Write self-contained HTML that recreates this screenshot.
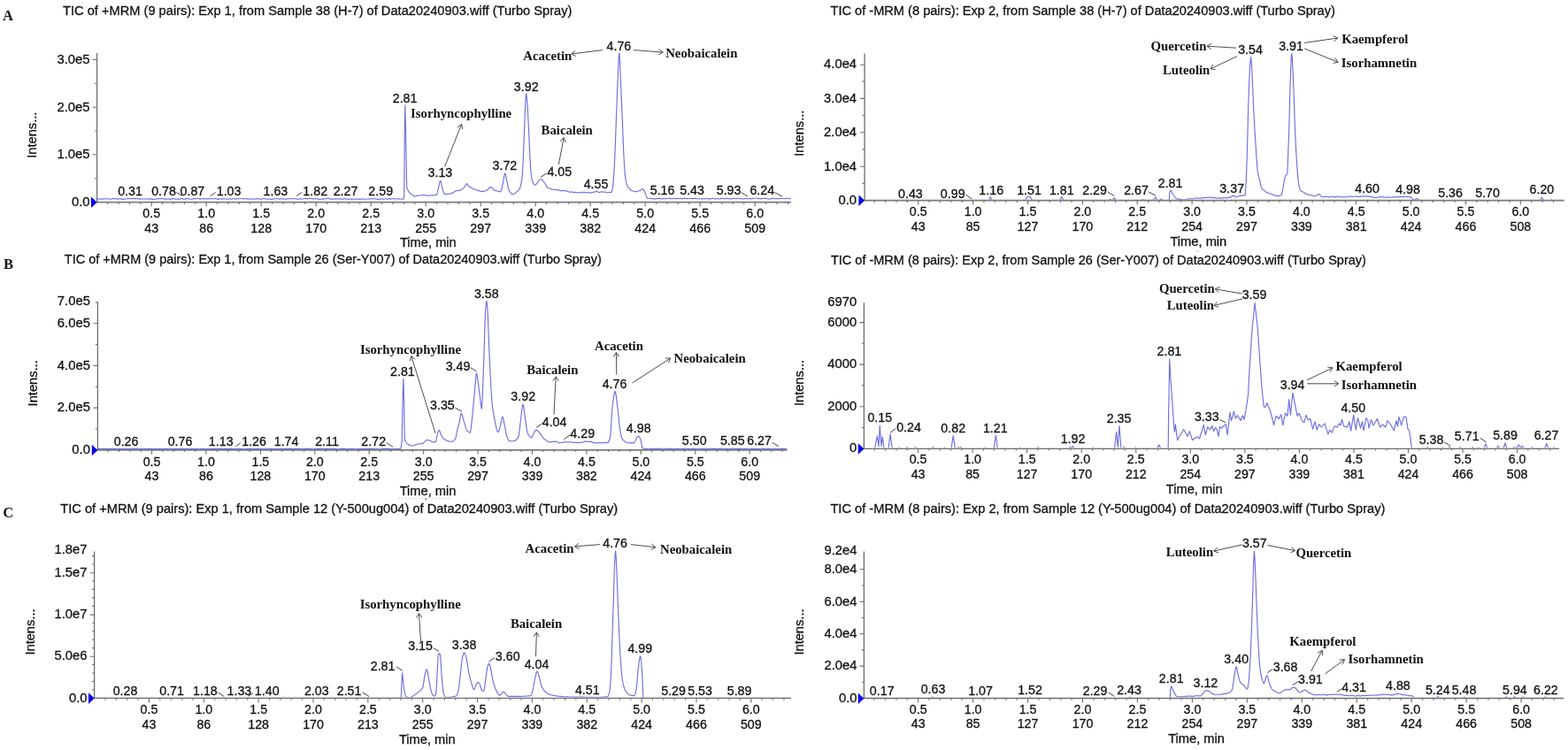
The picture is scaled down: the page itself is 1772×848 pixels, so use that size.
<!DOCTYPE html>
<html><head><meta charset="utf-8"><title>TIC chromatograms</title>
<style>
html,body{margin:0;padding:0;background:#fff}
svg{display:block}
text{font-family:"Liberation Sans",sans-serif;fill:#111;stroke:#111;stroke-width:.3px}
text.b{font-family:"Liberation Serif",serif;font-weight:bold;fill:#111;stroke:none}
.cv{fill:none;stroke:#6e6ee4;stroke-width:1.15;stroke-linejoin:round}
.ar{fill:none;stroke:#4c4c4c;stroke-width:1}
.ld{fill:none;stroke:#404040;stroke-width:1}
</style></head><body>
<svg width="1772" height="848" viewBox="0 0 1772 848">
<rect width="1772" height="848" fill="#fff"/>
<text x="3" y="23" class="b" font-size="16.6">A</text>
<text x="4" y="304" class="b" font-size="16.6">B</text>
<text x="3.2" y="585.4" class="b" font-size="16.6">C</text>
<path d="M450 563.4H510" stroke="#c4c4c4" stroke-width="0.9" stroke-dasharray="1.6 2.2"/>
<path d="M481.5 563L480.8 565.6M1353.9 283.4L1353.2 284.6" stroke="#555" stroke-width="0.9"/>
<path d="M1355.2 565H1356.4" stroke="#aaa" stroke-width="1"/>
<path d="M110.2 224.9L110.7 224.9L111.2 224.9L111.7 224.9L112.2 225.0L112.7 225.1L113.2 225.2L113.7 225.3L114.2 225.2L114.7 225.0L115.2 224.9L115.7 224.9L116.2 224.9L116.7 224.9L117.2 224.9L117.7 224.9L118.2 225.0L118.7 225.0L119.2 224.9L119.7 224.8L120.2 224.6L120.7 224.6L121.2 224.7L121.7 224.8L122.2 224.9L122.7 225.0L123.2 225.0L123.7 225.0L124.2 225.1L124.7 225.1L125.2 225.2L125.7 225.1L126.2 224.9L126.7 224.7L127.2 224.5L127.7 224.6L128.2 224.6L128.7 224.7L129.2 224.7L129.7 224.6L130.2 224.5L130.7 224.5L131.2 224.7L131.7 225.0L132.2 225.2L132.7 225.2L133.2 225.1L133.7 225.1L134.2 225.0L134.7 224.8L135.2 224.6L135.7 224.4L136.2 224.7L136.7 225.0L137.2 225.3L137.7 225.4L138.2 225.4L138.7 225.4L139.2 225.3L139.7 225.3L140.2 225.2L140.7 225.1L141.2 225.0L141.7 225.0L142.2 225.0L142.7 225.0L143.2 224.8L143.7 224.7L144.2 224.6L144.7 224.5L145.2 224.5L145.7 224.4L146.2 224.5L146.7 224.7L147.2 224.8L147.7 224.9L148.2 224.8L148.7 224.6L149.2 224.5L149.7 224.5L150.2 224.5L150.7 224.6L151.2 224.6L151.7 224.6L152.2 224.6L152.7 224.6L153.2 224.6L153.7 224.5L154.2 224.5L154.7 224.5L155.2 224.6L155.7 224.8L156.2 224.9L156.7 224.9L157.2 224.8L157.7 224.8L158.2 224.9L158.7 225.1L159.2 225.2L159.7 225.2L160.2 225.1L160.7 225.0L161.2 224.9L161.7 225.0L162.2 225.0L162.7 225.0L163.2 225.0L163.7 225.0L164.2 224.9L164.7 224.9L165.2 225.0L165.7 225.0L166.2 225.1L166.7 225.0L167.2 225.0L167.7 224.9L168.2 224.8L168.7 224.8L169.2 224.7L169.7 224.7L170.2 224.9L170.7 225.1L171.2 225.3L171.7 225.4L172.2 225.4L172.7 225.4L173.2 225.4L173.7 225.3L174.2 225.3L174.7 225.2L175.2 225.2L175.7 225.2L176.2 225.1L176.7 225.1L177.2 224.9L177.7 224.8L178.2 224.7L178.7 224.7L179.2 224.7L179.7 224.6L180.2 224.6L180.7 224.7L181.2 224.7L181.7 224.7L182.2 224.6L182.7 224.5L183.2 224.5L183.7 224.6L184.2 224.8L184.7 225.0L185.2 225.1L185.7 225.0L186.2 224.9L186.7 224.8L187.2 224.9L187.7 225.1L188.2 225.2L188.7 225.2L189.2 225.0L189.7 224.9L190.2 224.8L190.7 225.0L191.2 225.2L191.7 225.3L192.2 225.3L192.7 225.3L193.2 225.3L193.7 225.1L194.2 224.9L194.7 224.6L195.2 224.4L195.7 224.5L196.2 224.5L196.7 224.6L197.2 224.7L197.7 224.9L198.2 225.1L198.7 225.3L199.2 225.2L199.7 225.0L200.0 224.9L200.2 224.9L200.7 225.0L201.2 225.1L201.7 225.3L202.2 225.3L202.7 225.1L203.2 225.0L203.7 224.8L204.2 224.7L204.7 224.6L205.2 224.5L205.7 224.6L206.2 224.7L206.7 224.9L207.2 225.0L207.7 225.1L208.2 225.1L208.7 225.2L209.2 225.1L209.7 224.9L210.2 224.8L210.7 224.6L211.2 224.6L211.7 224.5L212.2 224.5L212.7 224.6L213.2 224.6L213.7 224.7L214.2 224.8L214.7 225.0L215.2 225.2L215.7 225.4L216.2 225.3L216.7 225.2L217.2 225.2L217.7 225.0L218.2 224.8L218.7 224.6L219.2 224.5L219.7 224.6L220.2 224.6L220.7 224.6L221.2 224.6L221.7 224.6L222.2 224.5L222.7 224.5L223.2 224.5L223.7 224.5L224.2 224.5L224.7 224.7L225.2 224.9L225.7 225.2L226.2 225.1L226.7 224.9L227.2 224.7L227.7 224.6L228.2 224.7L228.7 224.8L229.2 225.0L229.7 224.9L230.2 224.9L230.7 224.9L231.2 224.8L231.7 224.7L232.2 224.7L232.7 224.6L233.2 224.8L233.7 224.9L234.2 225.1L234.7 225.0L235.2 224.8L235.7 224.6L236.2 224.6L236.7 224.7L237.2 224.9L237.7 225.0L238.2 224.9L238.7 224.7L239.2 224.6L239.7 224.6L240.2 224.7L240.7 224.7L241.2 224.8L241.7 224.7L242.2 224.7L242.7 224.6L243.2 224.6L243.7 224.6L244.2 224.7L244.7 224.8L245.2 225.0L245.7 225.2L246.2 225.4L246.7 225.3L247.2 225.3L247.7 225.2L248.2 225.1L248.7 225.0L249.2 224.8L249.7 224.7L250.2 224.9L250.7 225.1L251.2 225.3L251.7 225.1L252.2 224.9L252.7 224.7L253.2 224.6L253.7 224.7L254.2 224.7L254.7 224.8L255.2 224.9L255.7 225.1L256.2 225.2L256.7 225.2L257.2 225.2L257.7 225.1L258.2 225.0L258.7 224.9L259.2 224.7L259.7 224.5L260.2 224.7L260.7 225.0L261.2 225.2L261.7 225.3L262.2 225.1L262.7 224.8L263.2 224.6L263.7 224.6L264.2 224.6L264.7 224.7L265.2 224.7L265.7 224.9L266.2 225.1L266.7 225.1L267.2 225.0L267.7 224.9L268.2 224.8L268.7 224.7L269.2 224.7L269.7 224.7L270.2 224.7L270.7 224.6L271.2 224.5L271.7 224.5L272.2 224.5L272.7 224.5L273.2 224.5L273.7 224.6L274.2 224.7L274.7 224.9L275.2 225.0L275.7 224.9L276.2 224.8L276.7 224.7L277.2 224.7L277.7 224.8L278.2 224.9L278.7 225.0L279.2 224.9L279.7 224.8L280.2 224.8L280.7 224.8L281.2 224.8L281.7 224.8L282.2 224.9L282.7 225.1L283.2 225.2L283.7 225.3L284.2 225.2L284.7 225.1L285.2 224.9L285.7 224.9L286.2 224.9L286.7 225.0L287.2 225.0L287.7 225.1L288.2 225.2L288.7 225.3L289.2 225.1L289.7 224.9L290.2 224.7L290.7 224.6L291.2 224.6L291.7 224.6L292.2 224.6L292.7 224.8L293.2 225.0L293.7 225.3L294.2 225.3L294.7 225.3L295.2 225.2L295.7 225.2L296.2 225.0L296.7 224.8L297.2 224.6L297.7 224.6L298.2 224.6L298.7 224.6L299.2 224.7L299.7 224.8L300.0 224.9L300.2 225.0L300.7 225.2L301.2 225.2L301.7 225.3L302.2 225.3L302.7 225.2L303.2 224.9L303.7 224.7L304.2 224.7L304.7 224.9L305.2 225.1L305.7 225.4L306.2 225.3L306.7 225.3L307.2 225.3L307.7 225.2L308.2 225.2L308.7 225.1L309.2 225.0L309.7 224.9L310.2 224.9L310.7 224.8L311.2 224.7L311.7 224.7L312.2 224.6L312.7 224.5L313.2 224.5L313.7 224.5L314.2 224.4L314.7 224.7L315.2 225.0L315.7 225.3L316.2 225.2L316.7 225.0L317.2 224.8L317.7 224.7L318.2 224.8L318.7 224.9L319.2 225.1L319.7 225.0L320.2 224.9L320.7 224.7L321.2 224.7L321.7 224.9L322.2 225.1L322.7 225.2L323.2 225.2L323.7 225.1L324.2 225.0L324.7 224.9L325.2 224.9L325.7 224.8L326.2 224.7L326.7 224.7L327.2 224.6L327.7 224.6L328.2 224.7L328.7 224.9L329.2 225.0L329.7 225.0L330.2 224.9L330.7 224.7L331.2 224.5L331.7 224.5L332.2 224.6L332.7 224.6L333.2 224.7L333.7 224.8L334.2 224.9L334.7 225.0L335.2 225.1L335.7 225.1L336.2 225.2L336.7 225.2L337.2 225.1L337.7 225.1L338.2 225.0L338.7 224.9L339.2 224.8L339.7 224.7L340.2 224.9L340.7 225.1L341.2 225.2L341.7 225.2L342.2 225.0L342.7 224.8L343.2 224.6L343.7 224.5L344.2 224.5L344.7 224.4L345.2 224.5L345.7 224.6L346.2 224.6L346.7 224.7L347.2 224.7L347.7 224.8L348.2 224.8L348.7 224.7L349.2 224.6L349.7 224.5L350.2 224.5L350.7 224.5L351.2 224.5L351.7 224.6L352.2 224.6L352.7 224.7L353.2 224.8L353.7 224.8L354.2 224.9L354.7 224.9L355.2 224.9L355.7 224.8L356.2 224.7L356.7 224.5L357.2 224.6L357.7 224.7L358.2 224.7L358.7 224.9L359.2 225.0L359.7 225.2L360.2 225.3L360.7 225.3L361.2 225.3L361.7 225.4L362.2 225.3L362.7 225.2L363.2 225.1L363.7 225.1L364.2 225.1L364.7 225.1L365.2 225.1L365.7 225.1L366.2 225.0L366.7 225.0L367.2 224.9L367.7 224.8L368.2 224.6L368.7 224.5L369.2 224.5L369.7 224.5L370.2 224.4L370.7 224.4L371.2 224.4L371.7 224.4L372.2 224.5L372.7 224.8L373.2 225.0L373.7 225.3L374.2 225.2L374.7 225.2L375.2 225.1L375.7 225.1L376.2 225.2L376.7 225.3L377.2 225.3L377.7 225.0L378.2 224.8L378.7 224.5L379.2 224.6L379.7 224.7L380.2 224.9L380.7 225.0L381.2 225.0L381.7 224.9L382.2 224.9L382.7 225.0L383.2 225.0L383.7 225.1L384.2 225.1L384.7 224.9L385.2 224.8L385.7 224.8L386.2 225.0L386.7 225.2L387.2 225.4L387.7 225.2L388.2 224.9L388.7 224.6L389.2 224.5L389.7 224.7L390.2 224.8L390.7 224.9L391.2 225.0L391.7 225.1L392.2 225.1L392.7 225.2L393.2 225.2L393.7 225.3L394.2 225.3L394.7 225.2L395.2 225.2L395.7 225.1L396.2 225.1L396.7 225.1L397.2 225.1L397.7 225.1L398.2 225.1L398.7 225.2L399.2 225.2L399.7 225.2L400.0 225.3L400.2 225.3L400.7 225.3L401.2 225.2L401.7 225.0L402.2 224.9L402.7 224.8L403.2 224.9L403.7 225.0L404.2 225.1L404.7 225.1L405.2 225.2L405.7 225.3L406.2 225.3L406.7 225.3L407.2 225.3L407.7 225.3L408.2 225.1L408.7 225.0L409.2 224.9L409.7 224.9L410.2 225.0L410.7 225.1L411.2 225.2L411.7 225.2L412.2 225.2L412.7 225.3L413.2 225.2L413.7 225.1L414.2 225.0L414.7 225.0L415.2 225.0L415.7 225.0L416.2 225.0L416.7 225.0L417.2 224.9L417.7 224.8L418.2 224.8L418.7 224.9L419.2 224.9L419.7 225.0L420.2 225.0L420.7 225.0L421.2 225.0L421.7 224.9L422.2 224.7L422.7 224.6L423.2 224.5L423.7 224.7L424.2 224.9L424.7 225.0L425.2 225.1L425.7 225.2L426.2 225.4L426.7 225.4L427.2 225.3L427.7 225.3L428.2 225.3L428.7 225.2L429.2 225.2L429.7 225.1L430.2 225.0L430.7 224.9L431.2 224.8L431.7 224.8L432.2 224.9L432.7 225.0L433.2 225.1L433.7 225.1L434.2 225.0L434.7 225.0L435.2 225.0L435.7 224.9L436.2 224.9L436.7 224.9L437.2 225.0L437.7 225.1L438.2 225.2L438.7 225.1L439.2 224.8L439.7 224.6L440.2 224.6L440.7 224.8L441.2 225.0L441.7 225.2L442.2 224.9L442.7 224.7L443.2 224.5L443.7 224.5L444.2 224.7L444.7 224.9L445.2 225.0L445.7 225.0L446.2 224.9L446.7 224.9L447.2 224.8L447.7 224.7L448.2 224.7L448.7 224.7L449.2 224.8L449.7 225.0L450.2 225.1L450.7 225.0L451.2 225.0L451.7 224.9L452.2 224.9L452.7 225.0L453.2 225.0L453.7 225.0L454.2 225.1L454.7 225.2L455.2 225.3L455.7 225.2L456.2 225.0L456.6 222.0L456.9 200.0L457.3 150.0L457.8 118.9L458.6 150.0L459.4 200.0L459.7 212.5L459.8 212.5L460.3 213.5L460.8 214.5L461.3 215.4L461.8 216.3L462.3 217.1L462.8 217.9L463.0 218.1L463.3 218.5L463.8 218.8L464.3 219.2L464.8 219.4L465.3 219.8L465.8 220.1L466.0 220.2L466.3 220.4L466.8 220.8L467.3 221.4L467.8 221.9L468.3 222.2L468.5 222.2L468.8 222.2L469.3 222.0L469.8 221.8L470.3 221.5L470.8 221.3L471.3 221.1L471.8 221.0L472.0 221.0L472.3 221.1L472.8 221.2L473.3 221.3L473.8 221.2L474.3 221.0L474.8 220.8L475.3 220.7L475.8 220.7L476.3 220.8L476.8 220.9L477.3 220.8L477.8 220.6L478.3 220.4L478.8 220.4L479.3 220.5L479.8 220.6L480.0 220.6L480.3 220.6L480.8 220.8L481.3 220.9L481.8 221.0L482.3 221.1L482.8 221.1L483.3 221.2L483.8 221.2L484.3 221.2L484.8 221.2L485.3 221.2L485.8 221.1L486.3 220.9L486.8 220.7L487.0 220.7L487.3 220.7L487.8 220.8L488.3 220.8L488.8 220.9L489.3 220.8L489.8 220.7L490.3 220.6L490.8 220.5L491.3 220.4L491.8 220.3L492.3 220.3L492.8 220.4L493.3 220.5L493.8 219.8L494.3 217.9L494.8 215.5L495.3 213.2L495.5 212.4L495.8 211.1L496.3 208.6L496.8 206.3L497.3 204.7L497.6 204.3L497.8 204.5L498.3 205.7L498.8 207.8L499.3 210.3L499.8 212.4L500.3 214.2L500.8 216.0L501.3 217.5L501.8 218.7L502.3 219.3L502.6 219.4L502.8 219.4L503.3 219.4L503.8 219.3L504.3 219.3L504.8 219.4L505.3 219.5L505.8 219.5L506.3 219.4L506.8 219.3L507.3 219.2L507.7 219.1L507.8 219.1L508.3 219.0L508.8 218.9L509.3 218.7L509.8 218.6L510.3 218.5L510.8 218.3L511.3 218.1L511.8 217.9L512.3 217.7L512.8 217.4L513.3 217.0L513.8 216.7L514.3 216.4L514.8 216.1L515.3 215.8L515.8 215.6L516.2 215.5L516.3 215.5L516.8 215.5L517.3 215.6L517.8 215.6L518.3 215.5L518.8 215.5L519.3 215.4L519.8 215.2L520.3 214.9L520.8 214.6L521.3 214.3L521.8 214.0L522.3 213.7L522.8 213.4L523.0 213.3L523.3 213.1L523.8 212.6L524.3 211.9L524.8 211.4L525.3 211.0L525.8 210.3L526.3 209.3L526.8 208.2L527.2 207.7L527.3 207.7L527.8 207.7L528.3 208.6L528.8 209.5L529.3 210.4L529.5 210.6L529.8 210.8L530.3 211.1L530.8 211.4L531.3 211.6L531.8 211.8L532.3 212.0L532.8 212.2L533.3 212.6L533.8 213.1L534.3 213.5L534.8 213.8L535.3 213.9L535.8 213.9L536.3 213.9L536.8 214.2L537.3 214.4L537.8 214.7L538.2 214.8L538.3 214.9L538.8 215.1L539.3 215.4L539.8 215.5L540.3 215.5L540.8 215.5L541.3 215.5L541.8 215.8L542.3 216.2L542.8 216.5L543.3 216.7L543.8 216.6L544.3 216.4L544.8 216.3L545.3 216.3L545.8 216.3L546.3 216.3L546.7 216.3L546.8 216.3L547.3 216.2L547.8 216.0L548.3 215.8L548.8 215.7L549.3 215.6L549.8 215.4L550.3 215.1L550.8 214.7L551.0 214.5L551.3 214.2L551.8 213.7L552.3 213.1L552.8 212.5L553.3 212.0L553.8 211.6L554.3 211.5L554.8 211.6L555.3 211.8L555.8 212.2L556.3 212.7L556.5 212.8L556.8 213.1L557.3 213.7L557.8 214.4L558.3 215.0L558.5 215.1L558.8 215.2L559.3 215.4L559.8 215.5L560.3 215.7L560.8 215.7L561.3 215.8L561.8 215.8L562.3 216.1L562.8 216.4L563.3 216.6L563.8 216.7L564.3 216.7L564.8 216.7L565.3 216.6L565.8 216.6L566.3 215.9L566.8 214.3L567.3 212.2L567.8 209.7L568.3 207.3L568.7 205.5L568.8 205.0L569.3 202.2L569.8 199.1L570.3 196.8L570.7 195.9L570.8 195.9L571.3 196.9L571.8 199.2L572.3 202.0L572.8 204.7L572.9 205.2L573.3 207.1L573.8 209.7L574.3 212.1L574.8 214.2L575.2 215.2L575.3 215.4L575.8 216.2L576.3 216.8L576.5 217.1L576.8 217.5L577.3 218.2L577.8 218.8L578.3 219.3L578.8 219.5L579.0 219.5L579.3 219.5L579.8 219.5L580.3 219.4L580.8 219.2L581.3 219.0L581.8 218.7L582.3 218.4L582.8 217.9L583.3 217.4L583.8 216.9L584.3 216.5L584.7 216.3L584.8 216.2L585.3 215.9L585.8 215.4L586.3 214.8L586.8 214.0L587.2 213.3L587.3 213.2L587.8 211.8L588.3 210.1L588.8 208.0L589.3 205.7L589.4 205.3L589.8 202.4L590.3 196.7L590.8 189.5L591.3 179.3L591.8 166.6L592.2 156.3L592.3 153.8L592.8 140.1L593.3 127.1L593.5 122.8L593.8 116.6L594.3 107.8L594.6 105.9L594.8 106.3L595.3 110.0L595.8 116.1L596.3 123.0L596.8 131.7L597.3 142.9L597.8 154.1L597.9 156.2L598.3 164.6L598.8 175.4L599.3 184.9L599.6 189.3L599.8 191.9L600.3 197.7L600.8 201.6L600.9 202.1L601.3 203.7L601.8 205.3L602.3 206.6L602.8 207.6L603.2 208.1L603.3 208.2L603.8 208.7L604.3 209.1L604.8 209.2L604.9 209.2L605.3 209.0L605.8 208.6L606.3 207.9L606.8 207.2L607.3 206.6L607.8 206.0L608.3 205.3L608.8 204.5L609.3 203.8L609.8 203.3L610.3 203.0L610.8 202.8L611.1 202.8L611.3 202.7L611.8 202.8L612.3 203.0L612.8 203.3L613.3 204.1L613.8 204.8L614.3 205.6L614.4 205.7L614.8 206.2L615.3 206.8L615.8 207.5L616.3 208.2L616.8 208.9L616.9 209.1L617.3 209.8L617.8 210.9L618.3 211.9L618.6 212.2L618.8 212.3L619.3 212.6L619.8 212.7L620.3 212.7L620.8 212.7L621.3 212.7L621.8 213.1L622.3 213.4L622.8 213.7L623.3 213.9L623.8 214.0L624.3 214.1L624.8 214.2L625.3 214.3L625.8 214.4L626.0 214.4L626.3 214.5L626.8 214.5L627.3 214.4L627.8 214.4L628.3 214.4L628.8 214.6L629.3 214.8L629.8 214.9L630.3 214.9L630.8 214.8L631.3 214.7L631.8 214.9L632.3 215.1L632.8 215.4L633.3 215.6L633.8 215.7L634.3 215.8L634.8 215.8L635.3 215.8L635.8 215.7L636.3 215.6L636.8 215.5L637.3 215.5L637.8 215.5L638.3 215.5L638.8 215.7L639.3 215.9L639.8 216.1L640.0 216.1L640.3 216.2L640.8 216.3L641.3 216.4L641.8 216.6L642.3 216.7L642.8 216.9L643.3 217.0L643.8 217.1L644.3 217.1L644.8 217.1L645.3 217.1L645.8 217.0L646.3 216.9L646.8 216.9L647.3 217.2L647.8 217.5L648.3 217.8L648.8 217.8L649.3 217.6L649.8 217.4L650.3 217.3L650.8 217.6L651.3 217.8L651.6 218.0L651.8 218.1L652.3 218.0L652.8 217.8L653.3 217.6L653.8 217.5L654.3 217.5L654.8 217.6L655.3 217.6L655.8 217.7L656.3 217.9L656.8 218.0L657.3 218.0L657.8 217.7L658.3 217.5L658.8 217.4L659.3 217.4L659.8 217.3L660.3 217.3L660.8 217.4L661.3 217.5L661.8 217.6L662.3 217.7L662.8 217.8L663.3 217.8L663.8 217.9L664.3 217.9L664.8 217.9L665.3 218.0L665.8 217.9L666.3 217.9L666.8 217.8L667.3 217.8L667.8 217.8L668.3 217.9L668.5 217.9L668.8 218.0L669.3 217.8L669.8 217.5L670.3 217.3L670.8 217.1L671.3 217.1L671.8 217.2L672.3 217.2L672.8 216.8L673.3 216.5L673.4 216.5L673.8 216.3L674.3 216.3L674.8 216.5L675.3 216.7L675.8 217.0L676.3 217.2L676.8 217.4L677.0 217.5L677.3 217.5L677.8 217.4L678.3 217.2L678.8 217.0L679.3 216.9L679.8 216.9L680.3 217.0L680.8 217.1L681.0 217.0L681.3 217.0L681.8 217.0L682.3 217.0L682.8 217.1L683.3 217.1L683.8 217.2L684.3 217.2L684.8 217.4L685.3 217.6L685.8 217.7L686.0 217.8L686.3 217.7L686.8 217.7L687.3 217.6L687.8 217.5L688.3 217.5L688.8 217.4L689.3 217.4L689.8 217.4L690.3 217.4L690.8 217.5L691.3 216.8L691.8 215.1L692.3 212.6L692.5 211.5L692.8 209.2L693.3 203.1L693.6 198.9L693.8 196.0L694.3 187.6L694.8 177.6L695.3 165.4L695.8 151.4L696.3 137.3L696.4 134.7L696.8 123.9L697.3 110.1L697.8 97.4L698.0 92.8L698.3 85.9L698.8 73.8L699.3 64.0L699.8 59.9L700.3 65.1L700.8 77.1L701.3 90.2L701.4 92.4L701.8 101.1L702.3 112.1L702.8 123.4L703.3 134.9L703.8 147.6L704.3 161.1L704.8 173.1L705.0 177.1L705.3 182.4L705.8 190.5L706.3 196.8L706.5 198.5L706.8 200.7L707.3 203.9L707.8 206.4L708.3 208.3L708.6 209.1L708.8 209.6L709.3 210.7L709.8 211.6L710.3 212.2L710.8 212.6L711.3 213.0L711.8 213.7L712.3 214.4L712.4 214.5L712.8 215.0L713.3 215.4L713.8 215.6L714.3 215.7L714.8 215.8L715.3 216.0L715.8 216.1L716.3 216.2L716.8 216.4L717.3 216.6L717.7 216.7L717.8 216.7L718.3 216.8L718.8 216.7L719.3 216.5L719.8 216.4L720.3 216.3L720.8 216.1L721.3 216.0L721.8 215.9L722.3 215.8L722.8 215.7L723.0 215.7L723.3 215.6L723.8 215.1L724.3 214.6L724.8 214.0L725.3 213.7L725.8 213.6L726.2 213.7L726.3 213.7L726.8 214.1L727.3 214.7L727.8 215.4L728.3 216.3L728.8 217.3L729.0 217.7L729.3 218.4L729.8 219.8L730.3 221.4L730.8 222.7L731.3 223.8L731.8 224.4L731.9 224.4L732.3 224.4L732.8 224.3L733.3 224.2L733.8 224.3L734.3 224.4L734.8 224.5L735.0 224.5L735.2 224.3L735.7 224.3L736.2 224.4L736.7 224.5L737.2 224.6L737.7 224.7L738.2 224.8L738.7 224.9L739.2 224.9L739.7 224.9L740.2 225.0L740.7 224.9L741.2 224.8L741.7 224.6L742.2 224.6L742.7 224.5L743.2 224.5L743.7 224.4L744.2 224.4L744.7 224.4L745.2 224.3L745.7 224.4L746.2 224.5L746.7 224.6L747.2 224.7L747.7 224.8L748.2 224.9L748.7 225.0L749.2 224.8L749.7 224.6L750.2 224.4L750.7 224.3L751.2 224.5L751.7 224.7L752.2 224.9L752.7 224.7L753.2 224.5L753.7 224.3L754.2 224.2L754.7 224.2L755.2 224.3L755.7 224.3L756.2 224.3L756.7 224.3L757.2 224.4L757.7 224.5L758.2 224.6L758.7 224.7L759.2 224.7L759.7 224.6L760.2 224.5L760.7 224.4L761.2 224.4L761.7 224.5L762.2 224.5L762.7 224.5L763.2 224.6L763.7 224.7L764.2 224.7L764.7 224.5L765.2 224.4L765.7 224.3L766.2 224.4L766.7 224.5L767.2 224.7L767.7 224.7L768.2 224.6L768.7 224.4L769.2 224.3L769.7 224.4L770.2 224.5L770.7 224.6L771.2 224.6L771.7 224.5L772.2 224.4L772.7 224.4L773.2 224.4L773.7 224.3L774.2 224.3L774.7 224.4L775.2 224.5L775.7 224.6L776.2 224.6L776.7 224.6L777.2 224.6L777.7 224.5L778.2 224.5L778.7 224.5L779.2 224.5L779.7 224.5L780.2 224.5L780.7 224.5L781.2 224.5L781.7 224.6L782.2 224.6L782.7 224.6L783.2 224.5L783.7 224.5L784.2 224.4L784.7 224.3L785.2 224.3L785.7 224.3L786.2 224.3L786.7 224.4L787.2 224.6L787.7 224.7L788.2 224.7L788.7 224.7L789.2 224.7L789.7 224.7L790.2 224.7L790.7 224.7L791.2 224.6L791.7 224.7L792.2 224.8L792.7 224.9L793.2 224.9L793.7 224.8L794.2 224.8L794.7 224.7L795.2 224.8L795.7 224.8L796.2 224.9L796.7 224.8L797.2 224.7L797.7 224.5L798.2 224.4L798.7 224.5L799.2 224.7L799.7 224.8L800.0 224.8L800.2 224.8L800.7 224.8L801.2 224.9L801.7 224.9L802.2 224.9L802.7 224.9L803.2 225.0L803.7 224.8L804.2 224.7L804.7 224.5L805.2 224.4L805.7 224.4L806.2 224.4L806.7 224.5L807.2 224.6L807.7 224.8L808.2 224.9L808.7 224.8L809.2 224.6L809.7 224.5L810.2 224.4L810.7 224.6L811.2 224.8L811.7 225.0L812.2 225.0L812.7 225.0L813.2 225.0L813.7 224.8L814.2 224.6L814.7 224.4L815.2 224.3L815.7 224.3L816.2 224.3L816.7 224.4L817.2 224.5L817.7 224.6L818.2 224.7L818.7 224.7L819.2 224.6L819.7 224.5L820.2 224.4L820.7 224.3L821.2 224.3L821.7 224.2L822.2 224.3L822.7 224.5L823.2 224.7L823.7 224.9L824.2 224.8L824.7 224.7L825.2 224.5L825.7 224.6L826.2 224.7L826.7 224.8L827.2 224.8L827.7 224.6L828.2 224.4L828.7 224.3L829.2 224.3L829.7 224.4L830.2 224.5L830.7 224.5L831.2 224.6L831.7 224.7L832.2 224.7L832.7 224.5L833.2 224.4L833.7 224.2L834.2 224.2L834.7 224.2L835.2 224.3L835.7 224.4L836.2 224.5L836.7 224.6L837.2 224.7L837.7 224.8L838.2 224.9L838.7 224.9L839.2 225.0L839.7 225.0L840.2 225.0L840.7 225.0L841.2 224.7L841.7 224.5L842.2 224.3L842.7 224.3L843.2 224.4L843.7 224.5L844.2 224.6L844.7 224.7L845.2 224.7L845.7 224.8L846.2 224.7L846.7 224.7L847.2 224.6L847.7 224.6L848.2 224.6L848.7 224.7L849.2 224.7L849.7 224.6L850.2 224.4L850.7 224.3L851.2 224.3L851.7 224.2L852.2 224.2L852.7 224.2L853.2 224.2L853.7 224.2L854.2 224.2L854.7 224.2L855.2 224.2L855.7 224.2L856.2 224.2L856.7 224.4L857.2 224.5L857.7 224.6L858.2 224.6L858.7 224.6L859.2 224.6L859.7 224.6L860.2 224.6L860.7 224.6L861.2 224.6L861.7 224.5L862.2 224.3L862.7 224.2L863.2 224.2L863.7 224.3L864.2 224.3L864.7 224.3L865.2 224.3L865.7 224.3L866.2 224.3L866.7 224.5L867.2 224.6L867.7 224.8L868.2 224.9L868.7 224.9L869.2 225.0L869.7 225.0L870.2 225.0L870.7 224.9L871.2 224.9L871.7 224.7L872.2 224.5L872.7 224.3L873.2 224.2L873.7 224.2L874.2 224.1L874.7 224.2L875.2 224.4L875.7 224.7L876.2 224.9L876.7 224.8L877.2 224.7L877.7 224.6L878.2 224.5L878.7 224.6L879.2 224.7L879.7 224.8L880.2 224.6L880.7 224.5L881.2 224.4L881.7 224.4L882.2 224.4L882.7 224.5L883.2 224.5L883.7 224.5L884.2 224.5L884.7 224.5L885.2 224.5L885.7 224.5L886.2 224.5L886.7 224.5L887.2 224.5L887.7 224.6L888.2 224.6L888.7 224.4L889.2 224.3L889.7 224.1L890.2 224.2L890.7 224.4L891.2 224.5L891.7 224.7L892.2 224.7L892.7 224.8L893.2 224.8L893.7 224.7L894.0 224.6" class="cv"/>
<path d="M109.6 60L109.6 229.2" stroke="#6e6e6e" stroke-width="1.3"/>
<path d="M109 228.6L894 228.6" stroke="#7c7c7c" stroke-width="1.85"/>
<path d="M104.6 67.5H109.6M104.6 121.2H109.6M104.6 174.8H109.6M107 94.3H109.6M107 148H109.6M107 201.7H109.6M121.6 228.6V230.9M134 228.6V230.9M146.4 228.6V230.9M158.8 228.6V230.9M171.2 228.6V233.6M183.6 228.6V230.9M196 228.6V230.9M208.4 228.6V230.9M220.8 228.6V230.9M233.2 228.6V233.6M245.6 228.6V230.9M258 228.6V230.9M270.4 228.6V230.9M282.8 228.6V230.9M295.2 228.6V233.6M307.6 228.6V230.9M320 228.6V230.9M332.4 228.6V230.9M344.8 228.6V230.9M357.2 228.6V233.6M369.6 228.6V230.9M382 228.6V230.9M394.4 228.6V230.9M406.8 228.6V230.9M419.2 228.6V233.6M431.6 228.6V230.9M444 228.6V230.9M456.4 228.6V230.9M468.8 228.6V230.9M481.2 228.6V233.6M493.6 228.6V230.9M506 228.6V230.9M518.4 228.6V230.9M530.8 228.6V230.9M543.2 228.6V233.6M555.6 228.6V230.9M568 228.6V230.9M580.4 228.6V230.9M592.8 228.6V230.9M605.2 228.6V233.6M617.6 228.6V230.9M630 228.6V230.9M642.4 228.6V230.9M654.8 228.6V230.9M667.2 228.6V233.6M679.6 228.6V230.9M692 228.6V230.9M704.4 228.6V230.9M716.8 228.6V230.9M729.2 228.6V233.6M741.6 228.6V230.9M754 228.6V230.9M766.4 228.6V230.9M778.8 228.6V230.9M791.2 228.6V233.6M803.6 228.6V230.9M816 228.6V230.9M828.4 228.6V230.9M840.8 228.6V230.9M853.2 228.6V233.6M865.6 228.6V230.9M878 228.6V230.9M890.4 228.6V230.9" stroke="#6e6e6e" stroke-width="1.1"/>
<path d="M103 222.5L109.6 228.8L103 235.1Z" fill="#0000f0"/>
<text transform="translate(101.5,71.8) scale(1.01,1)" text-anchor="end" font-size="14.67">3.0e5</text>
<text transform="translate(101.5,125.5) scale(1.01,1)" text-anchor="end" font-size="14.67">2.0e5</text>
<text transform="translate(101.5,179) scale(1.01,1)" text-anchor="end" font-size="14.67">1.0e5</text>
<text transform="translate(101.5,232.7) scale(1.01,1)" text-anchor="end" font-size="14.67">0.0</text>
<text transform="translate(171.2,246.4) scale(0.97,1)" text-anchor="middle" font-size="14.67">0.5</text>
<text transform="translate(171.2,263.4) scale(0.97,1)" text-anchor="middle" font-size="14.67">43</text>
<text transform="translate(233.2,246.4) scale(0.97,1)" text-anchor="middle" font-size="14.67">1.0</text>
<text transform="translate(233.2,263.4) scale(0.97,1)" text-anchor="middle" font-size="14.67">86</text>
<text transform="translate(295.2,246.4) scale(0.97,1)" text-anchor="middle" font-size="14.67">1.5</text>
<text transform="translate(295.2,263.4) scale(0.97,1)" text-anchor="middle" font-size="14.67">128</text>
<text transform="translate(357.2,246.4) scale(0.97,1)" text-anchor="middle" font-size="14.67">2.0</text>
<text transform="translate(357.2,263.4) scale(0.97,1)" text-anchor="middle" font-size="14.67">170</text>
<text transform="translate(419.2,246.4) scale(0.97,1)" text-anchor="middle" font-size="14.67">2.5</text>
<text transform="translate(419.2,263.4) scale(0.97,1)" text-anchor="middle" font-size="14.67">213</text>
<text transform="translate(481.2,246.4) scale(0.97,1)" text-anchor="middle" font-size="14.67">3.0</text>
<text transform="translate(481.2,263.4) scale(0.97,1)" text-anchor="middle" font-size="14.67">255</text>
<text transform="translate(543.2,246.4) scale(0.97,1)" text-anchor="middle" font-size="14.67">3.5</text>
<text transform="translate(543.2,263.4) scale(0.97,1)" text-anchor="middle" font-size="14.67">297</text>
<text transform="translate(605.2,246.4) scale(0.97,1)" text-anchor="middle" font-size="14.67">4.0</text>
<text transform="translate(605.2,263.4) scale(0.97,1)" text-anchor="middle" font-size="14.67">339</text>
<text transform="translate(667.2,246.4) scale(0.97,1)" text-anchor="middle" font-size="14.67">4.5</text>
<text transform="translate(667.2,263.4) scale(0.97,1)" text-anchor="middle" font-size="14.67">382</text>
<text transform="translate(729.2,246.4) scale(0.97,1)" text-anchor="middle" font-size="14.67">5.0</text>
<text transform="translate(729.2,263.4) scale(0.97,1)" text-anchor="middle" font-size="14.67">424</text>
<text transform="translate(791.2,246.4) scale(0.97,1)" text-anchor="middle" font-size="14.67">5.5</text>
<text transform="translate(791.2,263.4) scale(0.97,1)" text-anchor="middle" font-size="14.67">466</text>
<text transform="translate(853.2,246.4) scale(0.97,1)" text-anchor="middle" font-size="14.67">6.0</text>
<text transform="translate(853.2,263.4) scale(0.97,1)" text-anchor="middle" font-size="14.67">509</text>
<text transform="translate(483.85,278.8) scale(1.0,1)" text-anchor="middle" font-size="14.67">Time, min</text>
<text transform="translate(40.7,152.7) rotate(-90) scale(1.0,1)" text-anchor="middle" font-size="14.67">Intens...</text>
<text x="71.1" y="16.6" font-size="14.67" textLength="575.3" lengthAdjust="spacingAndGlyphs">TIC of +MRM (9 pairs): Exp 1, from Sample 38 (H-7) of Data20240903.wiff (Turbo Spray)</text>
<text transform="translate(147,220.65) scale(0.97,1)" text-anchor="middle" font-size="14.67">0.31</text>
<text transform="translate(185,220.65) scale(0.97,1)" text-anchor="middle" font-size="14.67">0.78</text>
<text transform="translate(217.4,220.65) scale(0.97,1)" text-anchor="middle" font-size="14.67">0.87</text>
<text transform="translate(258.6,220.65) scale(0.97,1)" text-anchor="middle" font-size="14.67">1.03</text>
<text transform="translate(311.4,220.65) scale(0.97,1)" text-anchor="middle" font-size="14.67">1.63</text>
<text transform="translate(356.2,220.65) scale(0.97,1)" text-anchor="middle" font-size="14.67">1.82</text>
<text transform="translate(390.5,220.65) scale(0.97,1)" text-anchor="middle" font-size="14.67">2.27</text>
<text transform="translate(430.2,220.65) scale(0.97,1)" text-anchor="middle" font-size="14.67">2.59</text>
<text transform="translate(457.6,116.45) scale(0.97,1)" text-anchor="middle" font-size="14.67">2.81</text>
<text transform="translate(497.4,200.15) scale(0.97,1)" text-anchor="middle" font-size="14.67">3.13</text>
<text transform="translate(570.4,192.25) scale(0.97,1)" text-anchor="middle" font-size="14.67">3.72</text>
<text transform="translate(594.7,102.95) scale(0.97,1)" text-anchor="middle" font-size="14.67">3.92</text>
<text transform="translate(632.3,199.05) scale(0.97,1)" text-anchor="middle" font-size="14.67">4.05</text>
<text transform="translate(673.5,213.45) scale(0.97,1)" text-anchor="middle" font-size="14.67">4.55</text>
<text transform="translate(699.4,56.65) scale(0.97,1)" text-anchor="middle" font-size="14.67">4.76</text>
<text transform="translate(748.6,220.45) scale(0.97,1)" text-anchor="middle" font-size="14.67">5.16</text>
<text transform="translate(782.1,220.45) scale(0.97,1)" text-anchor="middle" font-size="14.67">5.43</text>
<text transform="translate(823.6,220.45) scale(0.97,1)" text-anchor="middle" font-size="14.67">5.93</text>
<text transform="translate(861.3,220.45) scale(0.97,1)" text-anchor="middle" font-size="14.67">6.24</text>
<path d="M199.3 217.5L206 221.6M237.7 221.6L243.6 217.5M335.2 221.4L341 217.5M611 200.3L617.8 196M837.9 217.6L845 222.2M875.5 217.6L883.9 222.2" class="ld"/>
<text x="591.3" y="67.6" class="b" font-size="14.78">Acacetin</text>
<text x="752.2" y="65.1" class="b" font-size="14.78">Neobaicalein</text>
<text x="464.1" y="132.8" class="b" font-size="14.78">Isorhyncophylline</text>
<text x="611.6" y="152.1" class="b" font-size="14.78">Baicalein</text>
<path d="M681.2 56.6L645.7 61M650.14 57.27L645.7 61M650.92 63.54L645.7 61" class="ar"/>
<path d="M716 56.6L749.3 59.1M744.21 61.89L749.3 59.1M744.69 55.59L749.3 59.1" class="ar"/>
<path d="M502.6 188.4L521.6 140.5M522.74 146.19L521.6 140.5M516.87 143.86L521.6 140.5" class="ar"/>
<path d="M631.3 185.9L637.2 155.7M639.37 161.08L637.2 155.7M633.17 159.87L637.2 155.7" class="ar"/>
<clipPath id="c977_226"><rect x="977.1" y="50.6" width="792.7" height="175.05"/></clipPath>
<path d="M978.0 226.6L1117.5 226.6L1119.3 222.6L1121.0 226.6L1158.5 226.6L1160.5 223.0L1163.0 221.8L1165.0 223.5L1166.5 226.6L1197.5 226.6L1199.7 222.4L1202.0 226.6L1253.0 226.6L1255.0 225.5L1257.5 226.6L1259.2 223.4L1261.0 226.6L1290.0 226.6L1292.0 225.6L1294.0 226.6L1302.0 226.6L1304.0 225.4L1306.1 222.8L1308.0 226.6L1310.0 226.6L1312.0 224.9L1314.0 226.6L1321.3 226.6L1321.8 218.0L1323.2 215.0L1323.3 215.1L1323.8 216.2L1324.3 217.3L1324.8 218.3L1325.3 219.2L1325.8 220.0L1326.3 220.8L1326.6 221.2L1326.8 221.5L1327.3 222.1L1327.8 222.8L1328.3 223.4L1328.8 223.9L1329.3 224.3L1329.8 224.6L1330.3 224.9L1330.8 225.1L1331.3 225.3L1331.8 225.5L1332.3 225.3L1332.8 225.2L1333.3 225.0L1333.8 225.1L1334.3 225.2L1334.8 225.4L1335.3 225.6L1335.8 225.7L1335.9 225.8L1336.3 225.9L1336.8 226.0L1337.3 225.9L1337.8 225.8L1338.3 225.7L1338.8 225.7L1339.3 225.7L1339.8 225.8L1340.3 225.8L1340.8 225.5L1341.3 225.2L1341.8 225.0L1342.3 224.9L1342.8 224.9L1343.3 225.0L1343.8 225.0L1344.3 224.9L1344.8 224.8L1345.3 224.7L1345.8 224.7L1346.3 224.7L1346.8 224.8L1347.3 224.8L1347.7 224.8L1347.8 224.7L1348.3 224.7L1348.8 224.7L1349.3 224.5L1349.8 224.3L1350.3 224.1L1350.8 224.0L1351.3 224.0L1351.8 224.0L1352.3 224.0L1352.8 224.0L1353.3 224.0L1353.8 223.9L1354.3 224.0L1354.8 224.2L1355.3 224.3L1355.8 224.4L1356.3 224.3L1356.8 224.2L1357.3 224.1L1357.8 223.9L1358.3 223.7L1358.8 223.5L1359.3 223.5L1359.8 223.6L1360.3 223.8L1360.8 223.9L1361.3 223.6L1361.8 223.4L1362.3 223.2L1362.8 223.3L1363.3 223.4L1363.8 223.5L1364.3 223.6L1364.6 223.5L1364.8 223.4L1365.3 223.3L1365.8 223.1L1366.3 223.1L1366.8 223.1L1367.3 223.0L1367.8 223.2L1368.3 223.4L1368.8 223.7L1369.3 223.9L1369.8 223.7L1370.3 223.5L1370.8 223.3L1371.3 223.3L1371.8 223.3L1372.3 223.3L1372.8 223.4L1373.3 223.7L1373.8 223.9L1374.3 224.2L1374.8 224.1L1375.3 224.1L1375.8 224.1L1376.3 224.0L1376.8 223.8L1377.3 223.7L1377.8 223.6L1378.3 223.8L1378.8 224.0L1379.3 224.2L1379.8 224.2L1380.3 224.0L1380.8 223.9L1381.3 223.9L1381.6 223.9L1381.8 223.9L1382.3 223.9L1382.8 223.9L1383.3 223.8L1383.8 223.6L1384.3 223.4L1384.8 223.5L1385.3 223.6L1385.8 223.8L1386.3 223.9L1386.8 223.7L1387.3 223.6L1387.8 223.4L1388.0 223.4L1388.3 223.4L1388.8 223.4L1389.3 223.3L1389.8 223.1L1390.3 222.9L1390.8 222.6L1391.3 222.4L1391.8 222.0L1392.3 221.7L1392.8 221.4L1393.3 221.2L1393.6 221.2L1393.8 221.2L1394.3 221.5L1394.8 221.8L1395.3 222.1L1395.8 222.4L1396.3 222.7L1396.8 222.8L1397.3 222.7L1397.8 222.6L1398.3 222.5L1398.8 222.2L1399.3 222.0L1399.8 221.8L1400.3 221.6L1400.8 221.5L1401.3 221.4L1401.8 221.4L1401.9 221.4L1402.3 221.4L1402.8 221.4L1403.3 221.4L1403.8 221.2L1404.3 221.0L1404.8 220.7L1405.3 220.8L1405.8 220.9L1406.2 221.0L1406.3 221.0L1406.8 221.0L1407.0 220.8L1407.3 219.3L1407.8 212.6L1408.3 203.5L1408.8 191.3L1409.3 174.9L1409.7 161.0L1409.8 157.5L1410.3 137.3L1410.8 118.7L1411.3 103.8L1411.8 90.4L1412.3 79.6L1412.5 76.4L1412.8 71.9L1413.3 65.9L1413.6 64.6L1413.8 65.3L1414.3 71.4L1414.6 76.1L1414.8 79.4L1415.3 90.0L1415.8 102.4L1416.3 114.4L1416.5 118.7L1416.8 124.6L1417.3 134.0L1417.8 143.1L1418.3 151.7L1418.8 159.7L1418.9 161.3L1419.3 167.6L1419.8 175.5L1420.3 182.9L1420.8 189.0L1421.0 190.9L1421.3 193.2L1421.8 196.5L1422.3 198.8L1422.8 200.7L1423.3 202.5L1423.5 203.3L1423.8 204.7L1424.3 207.2L1424.8 209.6L1425.3 211.5L1425.7 212.5L1425.8 212.6L1426.3 213.4L1426.8 214.1L1427.3 214.5L1427.8 214.8L1428.3 215.0L1428.8 215.2L1429.3 215.8L1429.8 216.3L1429.9 216.5L1430.3 216.9L1430.8 217.2L1431.3 217.4L1431.8 217.5L1432.3 217.8L1432.8 218.1L1433.3 218.4L1433.8 218.7L1434.3 218.8L1434.8 218.8L1435.3 218.8L1435.8 218.9L1436.3 219.1L1436.8 219.3L1437.3 219.5L1437.8 219.7L1438.3 219.9L1438.8 220.1L1439.3 220.4L1439.8 220.8L1440.3 221.1L1440.8 221.3L1441.3 221.2L1441.8 221.1L1442.3 220.9L1442.8 221.1L1443.3 221.3L1443.7 221.5L1443.8 221.5L1444.3 221.6L1444.8 221.6L1445.3 221.5L1445.8 221.5L1446.3 221.3L1446.8 221.2L1447.3 221.0L1447.8 220.6L1448.0 220.4L1448.3 219.9L1448.8 218.3L1449.3 216.0L1449.8 213.5L1450.1 212.1L1450.3 211.0L1450.8 207.6L1451.3 204.1L1451.8 201.6L1452.3 199.9L1452.8 198.7L1453.3 197.8L1453.8 197.5L1454.3 197.2L1454.8 196.2L1455.3 185.0L1455.4 182.2L1455.8 171.8L1456.3 158.2L1456.8 143.2L1456.9 140.0L1457.3 124.7L1457.8 104.3L1458.0 97.8L1458.3 88.9L1458.8 74.4L1459.3 63.8L1459.7 60.6L1459.8 60.8L1460.3 65.3L1460.8 74.5L1461.3 86.0L1461.8 97.5L1462.3 110.5L1462.8 125.7L1463.3 139.9L1463.8 151.7L1464.3 162.8L1464.8 172.5L1465.3 180.8L1465.4 182.3L1465.8 188.2L1466.3 195.0L1466.8 200.8L1467.1 203.4L1467.3 204.9L1467.8 208.3L1468.3 211.2L1468.8 213.4L1469.2 214.4L1469.3 214.5L1469.8 215.2L1470.3 215.8L1470.8 216.3L1471.3 216.7L1471.8 216.8L1472.3 216.9L1472.8 217.0L1473.3 217.4L1473.5 217.5L1473.8 217.8L1474.3 218.3L1474.8 218.7L1475.3 218.9L1475.8 219.1L1476.3 219.2L1476.8 219.5L1477.3 219.6L1477.8 219.8L1478.3 220.0L1478.8 220.2L1479.3 220.4L1479.8 220.5L1480.3 220.6L1480.8 220.7L1481.3 220.7L1481.8 220.8L1482.3 220.9L1482.8 221.0L1483.3 221.0L1483.8 221.1L1484.3 221.2L1484.8 221.3L1485.3 221.5L1485.8 221.7L1486.2 221.8L1486.3 221.8L1486.8 221.8L1487.3 221.6L1487.8 221.3L1488.3 221.0L1488.8 220.4L1489.3 219.9L1489.8 219.5L1490.3 219.5L1490.8 219.7L1491.3 220.0L1491.8 220.5L1492.3 221.2L1492.8 221.9L1493.3 222.5L1493.8 222.7L1494.3 222.8L1494.7 222.7L1494.8 222.7L1495.3 222.6L1495.8 222.6L1496.3 222.5L1496.8 222.5L1497.3 222.4L1497.8 222.4L1498.3 222.3L1498.8 222.4L1499.3 222.5L1499.8 222.6L1500.3 222.7L1500.8 222.8L1501.3 222.9L1501.8 222.9L1502.3 222.8L1502.8 222.7L1503.3 222.6L1503.8 222.5L1504.3 222.5L1504.8 222.5L1505.3 222.5L1505.8 222.4L1506.3 222.3L1506.8 222.2L1507.3 222.4L1507.8 222.6L1508.3 222.9L1508.8 222.9L1509.3 222.7L1509.8 222.4L1510.3 222.1L1510.8 222.3L1511.3 222.4L1511.8 222.5L1512.3 222.7L1512.8 222.8L1513.3 222.9L1513.8 222.9L1514.3 222.7L1514.8 222.5L1515.3 222.3L1515.8 222.4L1516.3 222.5L1516.8 222.7L1517.0 222.8L1517.3 222.9L1517.8 222.9L1518.3 223.0L1518.8 223.0L1519.3 222.9L1519.8 222.8L1520.3 222.7L1520.8 222.7L1521.3 222.8L1521.8 222.8L1522.3 222.8L1522.8 222.6L1523.3 222.3L1523.8 222.1L1524.3 222.1L1524.8 222.2L1525.3 222.3L1525.8 222.3L1526.3 222.2L1526.8 222.1L1527.3 222.0L1527.8 222.2L1528.3 222.4L1528.8 222.5L1529.3 222.5L1529.8 222.3L1530.3 222.1L1530.8 222.0L1531.3 222.0L1531.8 222.0L1532.3 222.1L1532.8 222.2L1533.3 222.3L1533.8 222.5L1534.3 222.5L1534.8 222.5L1535.3 222.4L1535.8 222.3L1536.3 222.3L1536.8 222.4L1537.3 222.4L1537.8 222.3L1538.3 222.1L1538.8 222.0L1539.3 221.8L1539.8 221.8L1540.3 221.8L1540.8 221.8L1541.3 221.9L1541.8 221.9L1542.3 222.0L1542.8 222.0L1543.3 221.9L1543.8 221.9L1544.0 221.8L1544.3 221.8L1544.8 221.8L1545.3 221.8L1545.8 221.8L1546.3 221.9L1546.8 222.1L1547.3 222.2L1547.8 222.4L1548.3 222.4L1548.8 222.5L1549.3 222.5L1549.8 222.6L1550.3 222.7L1550.8 222.8L1550.9 222.8L1551.3 222.9L1551.8 223.1L1552.3 223.3L1552.8 223.5L1553.3 223.5L1553.8 223.5L1554.3 223.5L1554.8 223.4L1555.3 223.3L1555.8 223.2L1556.3 223.1L1556.8 223.1L1557.3 223.0L1557.8 223.0L1558.3 222.9L1558.8 222.9L1559.3 222.8L1559.8 222.8L1560.3 222.7L1560.8 222.6L1561.3 222.5L1561.8 222.6L1562.3 222.6L1562.8 222.7L1563.3 222.8L1563.8 222.9L1564.3 223.1L1564.8 223.2L1565.3 223.2L1565.8 223.2L1566.3 223.2L1566.8 223.1L1567.3 222.9L1567.8 222.8L1568.3 222.7L1568.8 222.9L1569.3 223.0L1569.8 223.1L1570.3 223.1L1570.8 223.1L1571.3 223.1L1571.8 223.0L1572.3 223.0L1572.8 223.0L1573.3 222.9L1573.8 222.9L1574.3 222.9L1574.8 222.9L1575.3 222.9L1575.8 222.9L1576.3 222.9L1576.8 222.9L1577.3 222.8L1577.8 222.6L1578.3 222.5L1578.8 222.6L1579.3 222.7L1579.8 222.8L1580.0 222.8L1580.3 222.7L1580.8 222.6L1581.3 222.4L1581.8 222.3L1582.3 222.4L1582.8 222.4L1583.3 222.5L1583.8 222.5L1584.3 222.6L1584.8 222.6L1585.3 222.7L1585.8 222.6L1586.3 222.6L1586.8 222.5L1587.3 222.4L1587.8 222.3L1588.3 222.1L1588.8 222.2L1589.3 222.3L1589.8 222.5L1590.3 222.6L1590.8 222.6L1591.3 222.5L1591.8 222.4L1592.0 222.3L1592.3 222.4L1592.8 222.5L1593.3 222.8L1593.8 223.1L1594.3 223.3L1594.8 223.5L1595.0 223.6L1595.3 223.7L1595.8 224.2L1596.3 224.8L1596.8 225.4L1597.3 225.8L1597.8 226.1L1598.2 226.4L1598.4 226.6L1600.0 225.0L1601.3 224.4L1603.0 225.4L1604.5 226.6L1740.5 226.6L1742.5 223.0L1744.5 226.6L1752.0 226.6L1753.0 225.6L1754.0 226.6L1766.0 226.6" class="cv" clip-path="url(#c977_226)"/>
<path d="M977.1 60.6L977.1 227.2" stroke="#6e6e6e" stroke-width="1.3"/>
<path d="M976.5 226.6L1767.8 226.6" stroke="#7c7c7c" stroke-width="1.85"/>
<path d="M972.1 73.2H977.1M972.1 111.4H977.1M972.1 149.8H977.1M972.1 188.2H977.1M974.5 92.1H977.1M974.5 130.5H977.1M974.5 168.9H977.1M974.5 207.4H977.1M988.23 226.6V228.9M1000.6 226.6V228.9M1012.98 226.6V228.9M1025.35 226.6V228.9M1037.72 226.6V231.6M1050.1 226.6V228.9M1062.47 226.6V228.9M1074.85 226.6V228.9M1087.22 226.6V228.9M1099.6 226.6V231.6M1111.97 226.6V228.9M1124.35 226.6V228.9M1136.72 226.6V228.9M1149.1 226.6V228.9M1161.47 226.6V231.6M1173.85 226.6V228.9M1186.22 226.6V228.9M1198.6 226.6V228.9M1210.97 226.6V228.9M1223.35 226.6V231.6M1235.72 226.6V228.9M1248.1 226.6V228.9M1260.47 226.6V228.9M1272.85 226.6V228.9M1285.22 226.6V231.6M1297.6 226.6V228.9M1309.97 226.6V228.9M1322.35 226.6V228.9M1334.72 226.6V228.9M1347.1 226.6V231.6M1359.47 226.6V228.9M1371.85 226.6V228.9M1384.22 226.6V228.9M1396.6 226.6V228.9M1408.97 226.6V231.6M1421.35 226.6V228.9M1433.72 226.6V228.9M1446.1 226.6V228.9M1458.47 226.6V228.9M1470.85 226.6V231.6M1483.22 226.6V228.9M1495.6 226.6V228.9M1507.97 226.6V228.9M1520.35 226.6V228.9M1532.72 226.6V231.6M1545.1 226.6V228.9M1557.47 226.6V228.9M1569.85 226.6V228.9M1582.22 226.6V228.9M1594.6 226.6V231.6M1606.97 226.6V228.9M1619.35 226.6V228.9M1631.72 226.6V228.9M1644.1 226.6V228.9M1656.47 226.6V231.6M1668.85 226.6V228.9M1681.22 226.6V228.9M1693.6 226.6V228.9M1705.97 226.6V228.9M1718.35 226.6V231.6M1730.72 226.6V228.9M1743.1 226.6V228.9M1755.47 226.6V228.9" stroke="#6e6e6e" stroke-width="1.1"/>
<path d="M970.5 220.5L977.1 226.8L970.5 233.1Z" fill="#0000f0"/>
<text transform="translate(968.1,77.2) scale(1.01,1)" text-anchor="end" font-size="14.67">4.0e4</text>
<text transform="translate(968.1,115.6) scale(1.01,1)" text-anchor="end" font-size="14.67">3.0e4</text>
<text transform="translate(968.1,154) scale(1.01,1)" text-anchor="end" font-size="14.67">2.0e4</text>
<text transform="translate(968.1,192.5) scale(1.01,1)" text-anchor="end" font-size="14.67">1.0e4</text>
<text transform="translate(968.1,231.1) scale(1.01,1)" text-anchor="end" font-size="14.67">0.0</text>
<text transform="translate(1037.72,243.9) scale(0.97,1)" text-anchor="middle" font-size="14.67">0.5</text>
<text transform="translate(1037.72,260.8) scale(0.97,1)" text-anchor="middle" font-size="14.67">43</text>
<text transform="translate(1099.6,243.9) scale(0.97,1)" text-anchor="middle" font-size="14.67">1.0</text>
<text transform="translate(1099.6,260.8) scale(0.97,1)" text-anchor="middle" font-size="14.67">85</text>
<text transform="translate(1161.47,243.9) scale(0.97,1)" text-anchor="middle" font-size="14.67">1.5</text>
<text transform="translate(1161.47,260.8) scale(0.97,1)" text-anchor="middle" font-size="14.67">127</text>
<text transform="translate(1223.35,243.9) scale(0.97,1)" text-anchor="middle" font-size="14.67">2.0</text>
<text transform="translate(1223.35,260.8) scale(0.97,1)" text-anchor="middle" font-size="14.67">170</text>
<text transform="translate(1285.22,243.9) scale(0.97,1)" text-anchor="middle" font-size="14.67">2.5</text>
<text transform="translate(1285.22,260.8) scale(0.97,1)" text-anchor="middle" font-size="14.67">212</text>
<text transform="translate(1347.1,243.9) scale(0.97,1)" text-anchor="middle" font-size="14.67">3.0</text>
<text transform="translate(1347.1,260.8) scale(0.97,1)" text-anchor="middle" font-size="14.67">254</text>
<text transform="translate(1408.97,243.9) scale(0.97,1)" text-anchor="middle" font-size="14.67">3.5</text>
<text transform="translate(1408.97,260.8) scale(0.97,1)" text-anchor="middle" font-size="14.67">297</text>
<text transform="translate(1470.85,243.9) scale(0.97,1)" text-anchor="middle" font-size="14.67">4.0</text>
<text transform="translate(1470.85,260.8) scale(0.97,1)" text-anchor="middle" font-size="14.67">339</text>
<text transform="translate(1532.72,243.9) scale(0.97,1)" text-anchor="middle" font-size="14.67">4.5</text>
<text transform="translate(1532.72,260.8) scale(0.97,1)" text-anchor="middle" font-size="14.67">381</text>
<text transform="translate(1594.6,243.9) scale(0.97,1)" text-anchor="middle" font-size="14.67">5.0</text>
<text transform="translate(1594.6,260.8) scale(0.97,1)" text-anchor="middle" font-size="14.67">424</text>
<text transform="translate(1656.47,243.9) scale(0.97,1)" text-anchor="middle" font-size="14.67">5.5</text>
<text transform="translate(1656.47,260.8) scale(0.97,1)" text-anchor="middle" font-size="14.67">466</text>
<text transform="translate(1718.35,243.9) scale(0.97,1)" text-anchor="middle" font-size="14.67">6.0</text>
<text transform="translate(1718.35,260.8) scale(0.97,1)" text-anchor="middle" font-size="14.67">508</text>
<text transform="translate(1354.35,277.95) scale(1.0,1)" text-anchor="middle" font-size="14.67">Time, min</text>
<text transform="translate(908.2,150.7) rotate(-90) scale(1.0,1)" text-anchor="middle" font-size="14.67">Intens...</text>
<text x="938.5" y="17.3" font-size="14.67" textLength="570.4" lengthAdjust="spacingAndGlyphs">TIC of -MRM (8 pairs): Exp 2, from Sample 38 (H-7) of Data20240903.wiff (Turbo Spray)</text>
<text transform="translate(1028.9,223.85) scale(0.97,1)" text-anchor="middle" font-size="14.67">0.43</text>
<text transform="translate(1076.7,223.85) scale(0.97,1)" text-anchor="middle" font-size="14.67">0.99</text>
<text transform="translate(1120.2,219.55) scale(0.97,1)" text-anchor="middle" font-size="14.67">1.16</text>
<text transform="translate(1163,219.55) scale(0.97,1)" text-anchor="middle" font-size="14.67">1.51</text>
<text transform="translate(1199.8,219.55) scale(0.97,1)" text-anchor="middle" font-size="14.67">1.81</text>
<text transform="translate(1237,220.45) scale(0.97,1)" text-anchor="middle" font-size="14.67">2.29</text>
<text transform="translate(1284,220.45) scale(0.97,1)" text-anchor="middle" font-size="14.67">2.67</text>
<text transform="translate(1322.6,211.55) scale(0.97,1)" text-anchor="middle" font-size="14.67">2.81</text>
<text transform="translate(1392.2,218.15) scale(0.97,1)" text-anchor="middle" font-size="14.67">3.37</text>
<text transform="translate(1413,61.05) scale(0.97,1)" text-anchor="middle" font-size="14.67">3.54</text>
<text transform="translate(1459,56.85) scale(0.97,1)" text-anchor="middle" font-size="14.67">3.91</text>
<text transform="translate(1545,217.75) scale(0.97,1)" text-anchor="middle" font-size="14.67">4.60</text>
<text transform="translate(1591,218.75) scale(0.97,1)" text-anchor="middle" font-size="14.67">4.98</text>
<text transform="translate(1639.1,222.55) scale(0.97,1)" text-anchor="middle" font-size="14.67">5.36</text>
<text transform="translate(1681.1,222.55) scale(0.97,1)" text-anchor="middle" font-size="14.67">5.70</text>
<text transform="translate(1742.4,218.75) scale(0.97,1)" text-anchor="middle" font-size="14.67">6.20</text>
<path d="M1091.4 220.1L1098.2 224.9M1251.7 216.9L1259.1 221.5M1297.9 216.9L1305.8 221.1" class="ld"/>
<text x="1300.5" y="57.2" class="b" font-size="14.78">Quercetin</text>
<text x="1314" y="84.1" class="b" font-size="14.78">Luteolin</text>
<text x="1516.2" y="48.6" class="b" font-size="14.78">Kaempferol</text>
<text x="1515.8" y="76" class="b" font-size="14.78">Isorhamnetin</text>
<path d="M1397 54.2L1364 52.2M1369.05 49.34L1364 52.2M1368.66 55.65L1364 52.2" class="ar"/>
<path d="M1398 63.7L1367.9 77.9M1370.95 72.97L1367.9 77.9M1373.65 78.68L1367.9 77.9" class="ar"/>
<path d="M1474.2 48.4L1511.8 43M1507.43 46.82L1511.8 43M1506.54 40.56L1511.8 43" class="ar"/>
<path d="M1474.2 54.9L1512.2 70.3M1506.51 71.4L1512.2 70.3M1508.88 65.55L1512.2 70.3" class="ar"/>
<path d="M111.0 507.4L111.5 507.4L112.0 507.4L112.5 507.4L113.0 507.4L113.5 507.5L114.0 507.5L114.5 507.5L115.0 507.5L115.5 507.4L116.0 507.3L116.5 507.4L117.0 507.4L117.5 507.5L118.0 507.5L118.5 507.5L119.0 507.5L119.5 507.4L120.0 507.4L120.5 507.4L121.0 507.3L121.5 507.4L122.0 507.4L122.5 507.5L123.0 507.5L123.5 507.4L124.0 507.4L124.5 507.3L125.0 507.4L125.5 507.4L126.0 507.4L126.5 507.5L127.0 507.4L127.5 507.4L128.0 507.3L128.5 507.3L129.0 507.3L129.5 507.3L130.0 507.4L130.5 507.4L131.0 507.4L131.5 507.5L132.0 507.5L132.5 507.6L133.0 507.6L133.5 507.6L134.0 507.5L134.5 507.4L135.0 507.4L135.5 507.4L136.0 507.4L136.5 507.4L137.0 507.4L137.5 507.5L138.0 507.5L138.5 507.6L139.0 507.6L139.5 507.6L140.0 507.7L140.5 507.6L141.0 507.6L141.5 507.5L142.0 507.5L142.5 507.5L143.0 507.5L143.5 507.5L144.0 507.6L144.5 507.6L145.0 507.7L145.5 507.6L146.0 507.5L146.5 507.4L147.0 507.4L147.5 507.5L148.0 507.6L148.5 507.6L149.0 507.6L149.5 507.5L150.0 507.4L150.5 507.4L151.0 507.4L151.5 507.4L152.0 507.4L152.5 507.4L153.0 507.4L153.5 507.3L154.0 507.4L154.5 507.4L155.0 507.4L155.5 507.5L156.0 507.5L156.5 507.6L157.0 507.6L157.5 507.5L158.0 507.5L158.5 507.4L159.0 507.4L159.5 507.5L160.0 507.5L160.5 507.5L161.0 507.5L161.5 507.5L162.0 507.6L162.5 507.5L163.0 507.5L163.5 507.5L164.0 507.5L164.5 507.5L165.0 507.5L165.5 507.5L166.0 507.5L166.5 507.4L167.0 507.3L167.5 507.3L168.0 507.3L168.5 507.3L169.0 507.3L169.5 507.3L170.0 507.4L170.5 507.4L171.0 507.4L171.5 507.5L172.0 507.5L172.5 507.6L173.0 507.5L173.5 507.5L174.0 507.5L174.5 507.5L175.0 507.4L175.5 507.4L176.0 507.5L176.5 507.5L177.0 507.5L177.5 507.5L178.0 507.5L178.5 507.5L179.0 507.5L179.5 507.5L180.0 507.4L180.5 507.4L181.0 507.5L181.5 507.5L182.0 507.6L182.5 507.6L183.0 507.6L183.5 507.6L184.0 507.6L184.5 507.5L185.0 507.5L185.5 507.4L186.0 507.4L186.5 507.5L187.0 507.5L187.5 507.5L188.0 507.5L188.5 507.5L189.0 507.5L189.5 507.5L190.0 507.6L190.5 507.6L191.0 507.6L191.5 507.6L192.0 507.6L192.5 507.6L193.0 507.6L193.5 507.5L194.0 507.4L194.5 507.4L195.0 507.5L195.5 507.6L196.0 507.7L196.5 507.6L197.0 507.5L197.5 507.4L198.0 507.4L198.5 507.4L199.0 507.4L199.5 507.5L200.0 507.5L200.5 507.6L201.0 507.6L201.5 507.5L202.0 507.5L202.5 507.4L203.0 507.4L203.5 507.4L204.0 507.5L204.5 507.5L205.0 507.4L205.5 507.4L206.0 507.3L206.5 507.4L207.0 507.4L207.5 507.5L208.0 507.6L208.5 507.6L209.0 507.6L209.5 507.6L210.0 507.6L210.5 507.6L211.0 507.5L211.5 507.5L212.0 507.6L212.5 507.6L213.0 507.7L213.5 507.6L214.0 507.5L214.5 507.5L215.0 507.5L215.5 507.5L216.0 507.5L216.5 507.6L217.0 507.6L217.5 507.6L218.0 507.5L218.5 507.5L219.0 507.5L219.5 507.5L220.0 507.5L220.5 507.5L221.0 507.5L221.5 507.5L222.0 507.5L222.5 507.6L223.0 507.6L223.5 507.6L224.0 507.7L224.5 507.7L225.0 507.7L225.5 507.6L226.0 507.6L226.5 507.5L227.0 507.5L227.5 507.5L228.0 507.6L228.5 507.5L229.0 507.5L229.5 507.4L230.0 507.3L230.5 507.4L231.0 507.5L231.5 507.6L232.0 507.6L232.5 507.6L233.0 507.6L233.5 507.6L234.0 507.6L234.5 507.6L235.0 507.7L235.5 507.7L236.0 507.7L236.5 507.6L237.0 507.6L237.5 507.5L238.0 507.5L238.5 507.4L239.0 507.4L239.5 507.4L240.0 507.4L240.5 507.5L241.0 507.5L241.5 507.5L242.0 507.6L242.5 507.5L243.0 507.4L243.5 507.3L244.0 507.4L244.5 507.4L245.0 507.5L245.5 507.5L246.0 507.4L246.5 507.4L247.0 507.4L247.5 507.4L248.0 507.4L248.5 507.3L249.0 507.3L249.5 507.3L250.0 507.3L250.5 507.3L251.0 507.4L251.5 507.5L252.0 507.6L252.5 507.5L253.0 507.5L253.5 507.4L254.0 507.4L254.5 507.4L255.0 507.4L255.5 507.4L256.0 507.4L256.5 507.4L257.0 507.4L257.5 507.5L258.0 507.5L258.5 507.6L259.0 507.6L259.5 507.5L260.0 507.4L260.5 507.4L261.0 507.4L261.5 507.4L262.0 507.5L262.5 507.5L263.0 507.5L263.5 507.5L264.0 507.5L264.5 507.6L265.0 507.6L265.5 507.6L266.0 507.6L266.5 507.6L267.0 507.6L267.5 507.6L268.0 507.6L268.5 507.6L269.0 507.6L269.5 507.6L270.0 507.5L270.5 507.5L271.0 507.4L271.5 507.4L272.0 507.5L272.5 507.5L273.0 507.5L273.5 507.5L274.0 507.4L274.5 507.5L275.0 507.5L275.5 507.6L276.0 507.7L276.5 507.7L277.0 507.7L277.5 507.7L278.0 507.6L278.5 507.5L279.0 507.4L279.5 507.4L280.0 507.4L280.5 507.4L281.0 507.4L281.5 507.4L282.0 507.4L282.5 507.4L283.0 507.4L283.5 507.4L284.0 507.4L284.5 507.4L285.0 507.4L285.5 507.5L286.0 507.5L286.5 507.5L287.0 507.5L287.5 507.5L288.0 507.5L288.5 507.5L289.0 507.4L289.5 507.4L290.0 507.4L290.5 507.3L291.0 507.3L291.5 507.3L292.0 507.4L292.5 507.4L293.0 507.5L293.5 507.5L294.0 507.5L294.5 507.4L295.0 507.5L295.5 507.5L296.0 507.5L296.5 507.5L297.0 507.6L297.5 507.6L298.0 507.7L298.5 507.7L299.0 507.6L299.5 507.6L300.0 507.6L300.5 507.5L301.0 507.5L301.5 507.5L302.0 507.5L302.5 507.5L303.0 507.5L303.5 507.6L304.0 507.6L304.5 507.6L305.0 507.5L305.5 507.5L306.0 507.4L306.5 507.3L307.0 507.4L307.5 507.5L308.0 507.6L308.5 507.7L309.0 507.6L309.5 507.6L310.0 507.6L310.5 507.6L311.0 507.6L311.5 507.6L312.0 507.6L312.5 507.6L313.0 507.6L313.5 507.6L314.0 507.6L314.5 507.5L315.0 507.5L315.5 507.5L316.0 507.5L316.5 507.5L317.0 507.4L317.5 507.4L318.0 507.4L318.5 507.4L319.0 507.4L319.5 507.5L320.0 507.5L320.5 507.5L321.0 507.4L321.5 507.4L322.0 507.3L322.5 507.3L323.0 507.3L323.5 507.3L324.0 507.3L324.5 507.4L325.0 507.4L325.5 507.4L326.0 507.4L326.5 507.4L327.0 507.4L327.5 507.4L328.0 507.4L328.5 507.4L329.0 507.4L329.5 507.4L330.0 507.3L330.5 507.3L331.0 507.3L331.5 507.3L332.0 507.3L332.5 507.3L333.0 507.3L333.5 507.4L334.0 507.4L334.5 507.4L335.0 507.3L335.5 507.3L336.0 507.4L336.5 507.4L337.0 507.4L337.5 507.4L338.0 507.4L338.5 507.3L339.0 507.4L339.5 507.5L340.0 507.5L340.5 507.6L341.0 507.6L341.5 507.6L342.0 507.6L342.5 507.5L343.0 507.5L343.5 507.4L344.0 507.4L344.5 507.4L345.0 507.4L345.5 507.4L346.0 507.4L346.5 507.4L347.0 507.4L347.5 507.4L348.0 507.4L348.5 507.4L349.0 507.4L349.5 507.4L350.0 507.4L350.5 507.4L351.0 507.4L351.5 507.5L352.0 507.6L352.5 507.6L353.0 507.7L353.5 507.7L354.0 507.7L354.5 507.6L355.0 507.6L355.5 507.5L356.0 507.5L356.5 507.5L357.0 507.5L357.5 507.5L358.0 507.4L358.5 507.4L359.0 507.4L359.5 507.3L360.0 507.3L360.5 507.3L361.0 507.3L361.5 507.4L362.0 507.4L362.5 507.4L363.0 507.4L363.5 507.4L364.0 507.4L364.5 507.4L365.0 507.5L365.5 507.6L366.0 507.6L366.5 507.6L367.0 507.5L367.5 507.4L368.0 507.4L368.5 507.3L369.0 507.3L369.5 507.3L370.0 507.4L370.5 507.5L371.0 507.7L371.5 507.6L372.0 507.6L372.5 507.5L373.0 507.5L373.5 507.4L374.0 507.4L374.5 507.4L375.0 507.4L375.5 507.5L376.0 507.5L376.5 507.5L377.0 507.4L377.5 507.4L378.0 507.3L378.5 507.4L379.0 507.4L379.5 507.5L380.0 507.6L380.5 507.6L381.0 507.7L381.5 507.7L382.0 507.7L382.5 507.7L383.0 507.6L383.5 507.6L384.0 507.6L384.5 507.6L385.0 507.5L385.5 507.5L386.0 507.4L386.5 507.4L387.0 507.4L387.5 507.4L388.0 507.4L388.5 507.4L389.0 507.4L389.5 507.4L390.0 507.4L390.5 507.5L391.0 507.5L391.5 507.6L392.0 507.6L392.5 507.6L393.0 507.5L393.5 507.5L394.0 507.6L394.5 507.6L395.0 507.6L395.5 507.5L396.0 507.5L396.5 507.4L397.0 507.4L397.5 507.4L398.0 507.4L398.5 507.4L399.0 507.5L399.5 507.6L400.0 507.6L400.5 507.6L401.0 507.7L401.5 507.7L402.0 507.7L402.5 507.7L403.0 507.7L403.5 507.6L404.0 507.6L404.5 507.6L405.0 507.6L405.5 507.6L406.0 507.6L406.5 507.6L407.0 507.6L407.5 507.6L408.0 507.6L408.5 507.6L409.0 507.5L409.5 507.5L410.0 507.4L410.5 507.4L411.0 507.4L411.5 507.5L412.0 507.5L412.5 507.5L413.0 507.5L413.5 507.4L414.0 507.4L414.5 507.4L415.0 507.3L415.5 507.3L416.0 507.3L416.5 507.3L417.0 507.3L417.5 507.3L418.0 507.4L418.5 507.4L419.0 507.4L419.5 507.4L420.0 507.4L420.5 507.4L421.0 507.5L421.5 507.5L422.0 507.6L422.5 507.6L423.0 507.6L423.5 507.7L424.0 507.7L424.5 507.6L425.0 507.5L425.5 507.5L426.0 507.5L426.5 507.6L427.0 507.7L427.5 507.7L428.0 507.7L428.5 507.7L429.0 507.7L429.5 507.7L430.0 507.7L430.5 507.7L431.0 507.6L431.5 507.6L432.0 507.5L432.5 507.4L433.0 507.4L433.5 507.4L434.0 507.4L434.5 507.4L435.0 507.4L435.5 507.4L436.0 507.4L436.5 507.4L437.0 507.4L437.5 507.4L438.0 507.4L438.5 507.4L439.0 507.4L439.5 507.4L440.0 507.5L440.5 507.5L441.0 507.6L441.5 507.6L442.0 507.6L442.5 507.7L443.0 507.7L443.5 507.6L444.0 507.6L444.5 507.6L445.0 507.6L445.5 507.5L446.0 507.5L446.5 507.5L447.0 507.5L447.5 507.6L448.0 507.6L448.5 507.6L449.0 507.6L449.5 507.6L450.0 507.5L450.5 507.4L451.0 507.3L451.5 507.4L452.0 507.5L452.5 507.5L452.7 507.6L453.4 505.0L454.2 499.1L455.3 442.5L455.9 428.3L456.7 456.6L457.3 496.2L457.5 497.3L458.0 498.4L458.5 499.5L459.0 500.4L459.5 501.1L459.8 501.4L460.0 501.6L460.5 502.0L461.0 502.3L461.5 502.6L462.0 502.9L462.5 503.1L463.0 503.3L463.5 503.4L464.0 503.6L464.5 503.7L465.0 503.9L465.5 504.1L466.0 504.2L466.5 504.0L467.0 503.8L467.5 503.5L468.0 503.3L468.5 503.2L469.0 503.1L469.5 503.0L470.0 502.8L470.5 502.7L471.0 502.6L471.1 502.6L471.5 502.4L472.0 502.2L472.5 502.0L473.0 501.8L473.5 501.7L474.0 501.7L474.5 501.6L475.0 501.7L475.5 501.8L476.0 501.8L476.5 501.7L477.0 501.6L477.5 501.4L478.0 501.2L478.5 500.8L479.0 500.3L479.5 499.8L480.0 499.3L480.5 498.9L481.0 498.4L481.5 498.1L482.0 497.8L482.5 497.5L483.0 497.4L483.2 497.5L483.5 497.6L484.0 497.8L484.5 498.0L485.0 498.1L485.5 498.1L486.0 498.2L486.5 498.3L487.0 498.6L487.5 498.9L488.0 499.2L488.5 499.6L488.8 499.7L489.0 499.8L489.5 499.9L490.0 500.0L490.5 500.0L491.0 499.9L491.5 499.8L492.0 499.6L492.4 499.3L492.5 499.3L493.0 497.8L493.5 495.3L494.0 492.7L494.5 490.5L495.0 488.9L495.5 487.4L496.0 486.5L496.3 486.3L496.5 486.4L497.0 487.4L497.5 488.9L498.0 490.6L498.5 492.0L498.7 492.4L499.0 492.8L499.5 493.5L500.0 494.1L500.5 494.9L501.0 495.6L501.5 496.3L502.0 496.7L502.5 497.0L503.0 497.2L503.5 497.4L504.0 497.6L504.5 497.8L505.0 498.0L505.5 498.3L506.0 498.6L506.5 498.9L507.0 499.0L507.5 499.0L508.0 499.0L508.5 499.0L509.0 499.1L509.4 499.2L509.5 499.3L510.0 499.3L510.5 499.3L511.0 499.2L511.5 499.0L512.0 498.7L512.5 498.3L513.0 497.9L513.5 497.4L514.0 497.0L514.3 496.8L514.5 496.5L515.0 495.1L515.5 492.8L516.0 490.2L516.5 487.5L517.0 485.1L517.1 484.7L517.5 483.3L518.0 481.7L518.5 480.0L519.0 478.3L519.1 477.9L519.5 475.7L520.0 472.3L520.5 469.1L521.0 467.3L521.1 467.3L521.5 467.5L522.0 468.4L522.5 470.0L523.0 471.9L523.5 473.9L524.0 475.7L524.2 476.3L524.5 477.1L525.0 478.7L525.5 480.3L526.0 482.2L526.5 483.9L527.0 485.4L527.5 486.4L527.8 486.8L528.0 487.0L528.5 487.4L529.0 487.8L529.5 488.3L530.0 488.7L530.5 489.0L531.0 489.2L531.3 489.2L531.5 488.9L532.0 486.3L532.5 482.2L532.9 478.9L533.0 478.1L533.5 473.6L534.0 468.5L534.5 463.0L535.0 457.5L535.5 452.1L536.0 446.8L536.5 441.6L537.0 436.4L537.5 430.2L538.0 424.2L538.4 422.1L538.5 422.2L539.0 423.5L539.5 426.4L540.0 430.1L540.5 434.1L540.8 436.2L541.0 437.6L541.5 441.4L542.0 445.5L542.5 449.6L543.0 453.6L543.5 457.2L544.0 461.1L544.3 462.2L544.5 461.4L545.0 453.1L545.5 440.9L545.7 436.1L546.0 428.8L546.5 414.6L547.0 399.5L547.2 393.5L547.5 383.7L548.0 365.8L548.5 352.4L548.6 350.9L549.0 346.0L549.5 341.6L549.9 340.4L550.0 340.6L550.5 344.7L551.0 351.4L551.5 361.2L552.0 374.8L552.5 388.7L552.7 393.4L553.0 400.2L553.5 411.1L554.0 421.5L554.5 431.0L554.8 436.2L555.0 439.5L555.5 447.6L556.0 454.4L556.3 457.6L556.5 459.3L557.0 463.2L557.5 466.5L558.0 469.4L558.5 471.9L559.0 474.3L559.5 476.7L560.0 479.3L560.5 481.9L561.0 484.2L561.5 486.2L562.0 487.6L562.5 488.5L562.8 488.6L563.0 488.6L563.5 488.0L564.0 486.8L564.5 485.2L565.0 483.2L565.5 481.1L566.0 479.1L566.5 476.7L567.0 474.0L567.5 471.8L567.9 471.2L568.0 471.3L568.5 472.3L569.0 474.3L569.5 476.9L570.0 479.6L570.2 480.5L570.5 481.9L571.0 484.6L571.5 487.4L572.0 490.1L572.5 492.5L573.0 494.3L573.5 495.5L574.0 496.6L574.5 497.6L575.0 498.3L575.5 498.6L575.6 498.6L576.0 498.6L576.5 498.6L577.0 498.7L577.5 498.7L578.0 498.7L578.5 498.7L579.0 498.7L579.5 498.7L580.0 498.7L580.5 498.5L581.0 498.4L581.5 498.2L582.0 498.1L582.5 497.9L583.0 497.6L583.5 497.3L584.0 496.7L584.5 496.1L585.0 495.4L585.5 494.6L585.8 494.1L586.0 493.6L586.5 491.1L587.0 487.4L587.5 483.0L588.0 478.5L588.5 474.5L588.6 473.7L589.0 470.6L589.5 466.2L590.0 462.0L590.5 458.7L591.0 457.1L591.1 457.1L591.5 457.9L592.0 460.7L592.5 464.7L593.0 469.1L593.5 472.9L593.6 473.6L594.0 476.3L594.5 479.9L595.0 483.5L595.5 486.6L596.0 488.9L596.4 490.0L596.5 490.2L597.0 491.1L597.5 492.0L598.0 492.8L598.5 493.5L599.0 494.1L599.5 494.5L600.0 494.8L600.5 494.9L600.7 494.8L601.0 494.6L601.5 493.8L602.0 492.5L602.5 491.3L603.0 490.1L603.5 489.2L604.0 488.4L604.5 487.6L605.0 486.8L605.5 486.3L606.0 485.9L606.1 485.9L606.5 486.0L607.0 486.3L607.5 486.7L608.0 487.2L608.5 487.7L609.0 488.4L609.5 489.1L609.9 489.6L610.0 489.7L610.5 490.4L611.0 491.1L611.5 491.9L612.0 492.8L612.5 493.5L613.0 494.1L613.5 494.7L614.0 495.3L614.5 495.9L615.0 496.4L615.5 496.8L616.0 497.1L616.5 497.3L617.0 497.6L617.5 497.9L618.0 498.3L618.5 498.6L619.0 499.0L619.5 499.2L620.0 499.4L620.5 499.6L621.0 499.8L621.5 499.9L622.0 500.0L622.5 500.0L622.6 499.9L623.0 499.8L623.5 499.6L624.0 499.3L624.5 499.3L625.0 499.3L625.5 499.3L626.0 499.3L626.5 499.2L627.0 499.1L627.5 499.2L628.0 499.1L628.5 499.2L629.0 499.2L629.5 499.5L630.0 499.8L630.5 500.2L631.0 500.5L631.5 500.7L632.0 500.8L632.5 500.9L633.0 500.7L633.5 500.5L634.0 500.3L634.5 500.2L635.0 500.3L635.5 500.4L636.0 500.5L636.5 500.2L637.0 500.0L637.5 499.8L638.0 499.7L638.5 499.6L639.0 499.6L639.5 499.6L640.0 499.7L640.5 499.9L641.0 500.0L641.5 500.0L642.0 500.0L642.5 500.0L643.0 499.9L643.5 499.8L644.0 499.7L644.5 499.6L645.0 499.8L645.5 499.9L646.0 500.0L646.5 500.1L647.0 500.2L647.5 500.3L648.0 500.3L648.5 500.4L649.0 500.4L649.5 500.4L650.0 500.4L650.5 500.4L651.0 500.4L651.5 500.4L652.0 500.5L652.5 500.5L653.0 500.6L653.1 500.6L653.5 500.6L654.0 500.7L654.5 500.8L655.0 500.7L655.5 500.4L656.0 500.2L656.5 500.0L657.0 500.0L657.5 500.1L658.0 500.1L658.5 500.0L659.0 499.9L659.5 499.8L660.0 499.6L660.5 499.4L661.0 499.2L661.5 499.0L662.0 499.1L662.5 499.1L663.0 499.1L663.5 499.1L664.0 499.2L664.3 499.2L664.5 499.2L665.0 499.3L665.5 499.3L666.0 499.3L666.5 499.4L667.0 499.4L667.5 499.4L668.0 499.3L668.5 499.5L669.0 499.8L669.5 500.1L670.0 500.5L670.5 500.5L671.0 500.6L671.5 500.7L672.0 500.8L672.5 500.9L673.0 501.0L673.5 501.1L674.0 500.9L674.5 500.8L675.0 500.6L675.5 500.6L676.0 500.7L676.5 500.7L677.0 500.7L677.5 500.6L678.0 500.6L678.5 500.5L679.0 500.7L679.5 500.8L680.0 501.0L680.5 501.0L681.0 500.8L681.5 500.7L682.0 500.6L682.5 500.5L683.0 500.4L683.5 500.4L684.0 500.4L684.5 500.4L685.0 500.5L685.5 500.5L686.0 500.6L686.5 500.6L686.6 500.6L687.0 500.6L687.5 500.0L688.0 499.1L688.5 497.8L689.0 496.3L689.4 494.9L689.5 494.4L690.0 490.1L690.5 483.3L691.0 475.3L691.5 467.5L692.0 461.0L692.2 459.2L692.5 456.7L693.0 452.7L693.5 448.9L694.0 445.7L694.5 443.4L695.0 442.4L695.5 443.3L696.0 445.7L696.5 449.1L697.0 453.1L697.5 457.2L697.8 459.4L698.0 460.9L698.5 465.4L699.0 470.6L699.5 475.9L700.0 480.8L700.5 484.6L700.6 485.1L701.0 487.5L701.5 490.2L702.0 492.6L702.5 494.6L703.0 496.0L703.4 496.6L703.5 496.7L704.0 497.3L704.5 497.7L705.0 498.1L705.5 498.5L706.0 498.9L706.5 499.5L707.0 500.0L707.5 500.3L708.0 500.4L708.5 500.5L709.0 500.5L709.5 500.6L710.0 500.7L710.5 500.8L711.0 500.8L711.5 500.7L712.0 500.6L712.5 500.4L713.0 500.6L713.5 500.8L714.0 501.1L714.5 501.0L715.0 500.9L715.5 500.7L716.0 500.6L716.4 500.7L716.5 500.8L717.0 500.5L717.5 499.7L718.0 498.5L718.5 497.1L719.0 496.0L719.2 495.7L719.5 495.3L720.0 494.5L720.5 493.9L721.0 493.4L721.5 493.2L721.6 493.2L722.0 493.4L722.5 494.0L723.0 494.8L723.5 495.9L723.9 496.9L724.0 497.1L724.5 499.4L725.0 502.4L725.5 505.1L726.0 506.6L726.1 506.7L726.5 506.9L727.0 507.0L727.5 507.1L728.0 507.1L728.2 507.3L728.7 507.3L729.2 507.3L729.7 507.2L730.2 507.2L730.7 507.3L731.2 507.3L731.7 507.3L732.2 507.2L732.7 507.2L733.2 507.2L733.7 507.2L734.2 507.3L734.7 507.3L735.2 507.3L735.7 507.3L736.2 507.3L736.7 507.3L737.2 507.3L737.7 507.3L738.2 507.3L738.7 507.4L739.2 507.4L739.7 507.5L740.2 507.5L740.7 507.4L741.2 507.4L741.7 507.3L742.2 507.3L742.7 507.4L743.2 507.4L743.7 507.4L744.2 507.3L744.7 507.3L745.2 507.3L745.7 507.3L746.2 507.3L746.7 507.3L747.2 507.3L747.7 507.3L748.2 507.2L748.7 507.2L749.2 507.2L749.7 507.3L750.2 507.3L750.7 507.3L751.2 507.3L751.7 507.2L752.2 507.2L752.7 507.3L753.2 507.4L753.7 507.5L754.2 507.5L754.7 507.5L755.2 507.4L755.7 507.4L756.2 507.4L756.7 507.3L757.2 507.3L757.7 507.3L758.2 507.3L758.7 507.4L759.2 507.4L759.7 507.5L760.2 507.5L760.7 507.5L761.2 507.4L761.7 507.3L762.2 507.2L762.7 507.3L763.2 507.4L763.7 507.5L764.2 507.5L764.7 507.5L765.2 507.4L765.7 507.4L766.2 507.4L766.7 507.4L767.2 507.4L767.7 507.4L768.2 507.5L768.7 507.5L769.2 507.5L769.7 507.5L770.2 507.4L770.7 507.4L771.2 507.4L771.7 507.4L772.2 507.4L772.7 507.4L773.2 507.4L773.7 507.5L774.2 507.5L774.7 507.5L775.2 507.6L775.7 507.6L776.2 507.5L776.7 507.5L777.2 507.4L777.7 507.4L778.2 507.4L778.7 507.5L779.2 507.5L779.7 507.5L780.2 507.5L780.7 507.5L781.2 507.5L781.7 507.5L782.2 507.5L782.7 507.4L783.2 507.4L783.7 507.4L784.2 507.4L784.7 507.4L785.2 507.3L785.7 507.3L786.2 507.3L786.7 507.3L787.2 507.3L787.7 507.2L788.2 507.2L788.7 507.2L789.2 507.2L789.7 507.2L790.2 507.2L790.7 507.2L791.2 507.2L791.7 507.3L792.2 507.4L792.7 507.5L793.2 507.5L793.7 507.4L794.2 507.3L794.7 507.3L795.2 507.3L795.7 507.3L796.2 507.3L796.7 507.3L797.2 507.2L797.7 507.2L798.2 507.3L798.7 507.4L799.2 507.5L799.7 507.5L800.0 507.5L800.2 507.5L800.7 507.5L801.2 507.5L801.7 507.5L802.2 507.5L802.7 507.5L803.2 507.4L803.7 507.4L804.2 507.4L804.7 507.3L805.2 507.3L805.7 507.3L806.2 507.3L806.7 507.3L807.2 507.3L807.7 507.3L808.2 507.3L808.7 507.3L809.2 507.4L809.7 507.4L810.2 507.4L810.7 507.3L811.2 507.3L811.7 507.3L812.2 507.3L812.7 507.3L813.2 507.4L813.7 507.4L814.2 507.3L814.7 507.3L815.2 507.4L815.7 507.4L816.2 507.5L816.7 507.6L817.2 507.6L817.7 507.6L818.2 507.6L818.7 507.5L819.2 507.5L819.7 507.4L820.2 507.4L820.7 507.4L821.2 507.3L821.7 507.3L822.2 507.4L822.7 507.5L823.2 507.6L823.7 507.5L824.2 507.5L824.7 507.4L825.2 507.3L825.7 507.3L826.2 507.3L826.7 507.3L827.2 507.3L827.7 507.3L828.2 507.2L828.7 507.2L829.2 507.3L829.7 507.3L830.2 507.4L830.7 507.4L831.2 507.4L831.7 507.4L832.2 507.4L832.7 507.4L833.2 507.4L833.7 507.4L834.2 507.4L834.7 507.3L835.2 507.3L835.7 507.3L836.2 507.3L836.7 507.4L837.2 507.4L837.7 507.3L838.2 507.3L838.7 507.2L839.2 507.2L839.7 507.3L840.2 507.3L840.7 507.3L841.2 507.3L841.7 507.3L842.2 507.2L842.7 507.3L843.2 507.3L843.7 507.4L844.2 507.3L844.7 507.3L845.2 507.2L845.7 507.2L846.2 507.2L846.7 507.2L847.2 507.2L847.7 507.2L848.2 507.3L848.7 507.3L849.2 507.3L849.7 507.3L850.2 507.3L850.7 507.3L851.2 507.3L851.7 507.4L852.2 507.4L852.7 507.4L853.2 507.4L853.7 507.4L854.2 507.4L854.7 507.4L855.2 507.5L855.7 507.5L856.2 507.5L856.7 507.5L857.2 507.5L857.7 507.5L858.2 507.5L858.7 507.5L859.2 507.5L859.7 507.5L860.2 507.5L860.7 507.5L861.2 507.5L861.7 507.4L862.2 507.4L862.7 507.4L863.2 507.3L863.7 507.3L864.2 507.3L864.7 507.4L865.2 507.5L865.7 507.6L866.2 507.5L866.7 507.4L867.2 507.3L867.7 507.3L868.2 507.3L868.7 507.4L869.2 507.5L869.7 507.5L870.2 507.5L870.7 507.5L871.2 507.4L871.7 507.4L872.2 507.3L872.7 507.2L873.2 507.3L873.7 507.4L874.2 507.5L874.7 507.5L875.2 507.5L875.7 507.6L876.2 507.6L876.7 507.5L877.2 507.5L877.7 507.5L878.2 507.5L878.7 507.5L879.2 507.5L879.7 507.5L880.2 507.5L880.7 507.5L881.2 507.5L881.7 507.4L882.2 507.4L882.7 507.3L883.2 507.3L883.7 507.3L884.2 507.4L884.7 507.4L885.2 507.4L885.7 507.4L886.2 507.4L886.7 507.4L887.2 507.5L887.7 507.5L888.2 507.5L888.7 507.5L889.2 507.5L889.4 507.5" class="cv"/>
<path d="M110.4 341.8L110.4 509.4" stroke="#6e6e6e" stroke-width="1.3"/>
<path d="M109.8 508.8L889.4 508.8" stroke="#7c7c7c" stroke-width="1.85"/>
<path d="M105.4 365.7H110.4M105.4 413.4H110.4M105.4 461.1H110.4M107.8 341.9H110.4M107.8 389.5H110.4M107.8 437.3H110.4M107.8 485H110.4M122.38 508.8V511.1M134.67 508.8V511.1M146.95 508.8V511.1M159.24 508.8V511.1M171.53 508.8V513.8M183.81 508.8V511.1M196.09 508.8V511.1M208.38 508.8V511.1M220.66 508.8V511.1M232.95 508.8V513.8M245.23 508.8V511.1M257.52 508.8V511.1M269.81 508.8V511.1M282.09 508.8V511.1M294.38 508.8V513.8M306.66 508.8V511.1M318.94 508.8V511.1M331.23 508.8V511.1M343.51 508.8V511.1M355.8 508.8V513.8M368.09 508.8V511.1M380.37 508.8V511.1M392.65 508.8V511.1M404.94 508.8V511.1M417.23 508.8V513.8M429.51 508.8V511.1M441.79 508.8V511.1M454.08 508.8V511.1M466.37 508.8V511.1M478.65 508.8V513.8M490.94 508.8V511.1M503.22 508.8V511.1M515.5 508.8V511.1M527.79 508.8V511.1M540.08 508.8V513.8M552.36 508.8V511.1M564.64 508.8V511.1M576.93 508.8V511.1M589.22 508.8V511.1M601.5 508.8V513.8M613.78 508.8V511.1M626.07 508.8V511.1M638.36 508.8V511.1M650.64 508.8V511.1M662.93 508.8V513.8M675.21 508.8V511.1M687.5 508.8V511.1M699.78 508.8V511.1M712.07 508.8V511.1M724.35 508.8V513.8M736.63 508.8V511.1M748.92 508.8V511.1M761.21 508.8V511.1M773.49 508.8V511.1M785.78 508.8V513.8M798.06 508.8V511.1M810.35 508.8V511.1M822.63 508.8V511.1M834.92 508.8V511.1M847.2 508.8V513.8M859.49 508.8V511.1M871.77 508.8V511.1M884.05 508.8V511.1" stroke="#6e6e6e" stroke-width="1.1"/>
<path d="M103.8 502.7L110.4 509L103.8 515.3Z" fill="#0000f0"/>
<text transform="translate(101.9,345.3) scale(1.01,1)" text-anchor="end" font-size="14.67">7.0e5</text>
<text transform="translate(101.9,369.8) scale(1.01,1)" text-anchor="end" font-size="14.67">6.0e5</text>
<text transform="translate(101.9,417.5) scale(1.01,1)" text-anchor="end" font-size="14.67">4.0e5</text>
<text transform="translate(101.9,465.1) scale(1.01,1)" text-anchor="end" font-size="14.67">2.0e5</text>
<text transform="translate(101.9,512.9) scale(1.01,1)" text-anchor="end" font-size="14.67">0.0</text>
<text transform="translate(171.52,526.8) scale(0.97,1)" text-anchor="middle" font-size="14.67">0.5</text>
<text transform="translate(171.52,543.4) scale(0.97,1)" text-anchor="middle" font-size="14.67">43</text>
<text transform="translate(232.95,526.8) scale(0.97,1)" text-anchor="middle" font-size="14.67">1.0</text>
<text transform="translate(232.95,543.4) scale(0.97,1)" text-anchor="middle" font-size="14.67">86</text>
<text transform="translate(294.38,526.8) scale(0.97,1)" text-anchor="middle" font-size="14.67">1.5</text>
<text transform="translate(294.38,543.4) scale(0.97,1)" text-anchor="middle" font-size="14.67">128</text>
<text transform="translate(355.8,526.8) scale(0.97,1)" text-anchor="middle" font-size="14.67">2.0</text>
<text transform="translate(355.8,543.4) scale(0.97,1)" text-anchor="middle" font-size="14.67">170</text>
<text transform="translate(417.23,526.8) scale(0.97,1)" text-anchor="middle" font-size="14.67">2.5</text>
<text transform="translate(417.23,543.4) scale(0.97,1)" text-anchor="middle" font-size="14.67">213</text>
<text transform="translate(478.65,526.8) scale(0.97,1)" text-anchor="middle" font-size="14.67">3.0</text>
<text transform="translate(478.65,543.4) scale(0.97,1)" text-anchor="middle" font-size="14.67">255</text>
<text transform="translate(540.07,526.8) scale(0.97,1)" text-anchor="middle" font-size="14.67">3.5</text>
<text transform="translate(540.07,543.4) scale(0.97,1)" text-anchor="middle" font-size="14.67">297</text>
<text transform="translate(601.5,526.8) scale(0.97,1)" text-anchor="middle" font-size="14.67">4.0</text>
<text transform="translate(601.5,543.4) scale(0.97,1)" text-anchor="middle" font-size="14.67">339</text>
<text transform="translate(662.92,526.8) scale(0.97,1)" text-anchor="middle" font-size="14.67">4.5</text>
<text transform="translate(662.92,543.4) scale(0.97,1)" text-anchor="middle" font-size="14.67">382</text>
<text transform="translate(724.35,526.8) scale(0.97,1)" text-anchor="middle" font-size="14.67">5.0</text>
<text transform="translate(724.35,543.4) scale(0.97,1)" text-anchor="middle" font-size="14.67">424</text>
<text transform="translate(785.77,526.8) scale(0.97,1)" text-anchor="middle" font-size="14.67">5.5</text>
<text transform="translate(785.77,543.4) scale(0.97,1)" text-anchor="middle" font-size="14.67">466</text>
<text transform="translate(847.2,526.8) scale(0.97,1)" text-anchor="middle" font-size="14.67">6.0</text>
<text transform="translate(847.2,543.4) scale(0.97,1)" text-anchor="middle" font-size="14.67">509</text>
<text transform="translate(483.55,559.9) scale(1.0,1)" text-anchor="middle" font-size="14.67">Time, min</text>
<text transform="translate(42.3,433.3) rotate(-90) scale(1.0,1)" text-anchor="middle" font-size="14.67">Intens...</text>
<text x="72.8" y="297.8" font-size="14.67" textLength="607" lengthAdjust="spacingAndGlyphs">TIC of +MRM (9 pairs): Exp 1, from Sample 26 (Ser-Y007) of Data20240903.wiff (Turbo Spray)</text>
<text transform="translate(142.6,503.6) scale(0.97,1)" text-anchor="middle" font-size="14.67">0.26</text>
<text transform="translate(203.5,503.6) scale(0.97,1)" text-anchor="middle" font-size="14.67">0.76</text>
<text transform="translate(249.7,503.6) scale(0.97,1)" text-anchor="middle" font-size="14.67">1.13</text>
<text transform="translate(287,503.6) scale(0.97,1)" text-anchor="middle" font-size="14.67">1.26</text>
<text transform="translate(323.6,503.6) scale(0.97,1)" text-anchor="middle" font-size="14.67">1.74</text>
<text transform="translate(369.5,503.6) scale(0.97,1)" text-anchor="middle" font-size="14.67">2.11</text>
<text transform="translate(422.2,503.6) scale(0.97,1)" text-anchor="middle" font-size="14.67">2.72</text>
<text transform="translate(454.9,424.7) scale(0.97,1)" text-anchor="middle" font-size="14.67">2.81</text>
<text transform="translate(499.9,463.1) scale(0.97,1)" text-anchor="middle" font-size="14.67">3.35</text>
<text transform="translate(517.5,418.6) scale(0.97,1)" text-anchor="middle" font-size="14.67">3.49</text>
<text transform="translate(549.8,337) scale(0.97,1)" text-anchor="middle" font-size="14.67">3.58</text>
<text transform="translate(591.2,452.8) scale(0.97,1)" text-anchor="middle" font-size="14.67">3.92</text>
<text transform="translate(626.6,482.4) scale(0.97,1)" text-anchor="middle" font-size="14.67">4.04</text>
<text transform="translate(658.2,495.2) scale(0.97,1)" text-anchor="middle" font-size="14.67">4.29</text>
<text transform="translate(694.5,438.9) scale(0.97,1)" text-anchor="middle" font-size="14.67">4.76</text>
<text transform="translate(721.7,489.3) scale(0.97,1)" text-anchor="middle" font-size="14.67">4.98</text>
<text transform="translate(784.7,502.9) scale(0.97,1)" text-anchor="middle" font-size="14.67">5.50</text>
<text transform="translate(827.8,502.9) scale(0.97,1)" text-anchor="middle" font-size="14.67">5.85</text>
<text transform="translate(858.1,502.9) scale(0.97,1)" text-anchor="middle" font-size="14.67">6.27</text>
<path d="M266.5 504.6L271.8 500.8M436.6 500.6L443.9 505.2M514.5 461.2L521.7 465M531.7 415.6L538.5 419.9M606.1 483.5L612.5 479M637.3 496.6L644.2 492M872.8 500.4L879.9 504.5" class="ld"/>
<text x="406.9" y="399.6" class="b" font-size="14.78">Isorhyncophylline</text>
<text x="595.2" y="423.4" class="b" font-size="14.78">Baicalein</text>
<text x="672" y="396.1" class="b" font-size="14.78">Acacetin</text>
<text x="761.5" y="409.5" class="b" font-size="14.78">Neobaicalein</text>
<path d="M492 489.7L464.8 402.6M469.27 406.3L464.8 402.6M463.23 408.18L464.8 402.6" class="ar"/>
<path d="M626 468.8L628.2 425.8M631.11 430.82L628.2 425.8M624.8 430.5L628.2 425.8" class="ar"/>
<path d="M696.8 423.6L696.4 398.5M699.64 403.31L696.4 398.5M693.32 403.41L696.4 398.5" class="ar"/>
<path d="M714.6 432.9L757.8 405M755.43 410.29L757.8 405M752 404.99L757.8 405" class="ar"/>
<clipPath id="c976_507"><rect x="976.4" y="332.3" width="787.8" height="174.05"/></clipPath>
<path d="M977.0 507.3L988.5 507.3L991.4 493.1L993.0 505.0L994.3 481.3L996.0 504.5L997.2 493.8L999.0 507.3L1004.0 507.3L1006.1 490.9L1008.3 507.3L1015.0 507.3L1016.3 505.8L1017.5 507.3L1024.0 507.3L1025.2 505.6L1026.4 507.3L1033.0 507.3L1034.5 505.6L1036.0 507.3L1053.0 507.3L1054.4 505.4L1056.0 507.3L1066.0 507.3L1067.3 505.8L1068.6 507.3L1075.0 507.3L1077.2 492.5L1079.4 507.3L1082.0 507.3L1083.2 505.5L1084.5 507.3L1085.5 505.4L1087.0 507.3L1112.0 507.3L1113.4 505.8L1115.0 507.3L1123.2 507.3L1125.3 492.0L1127.4 507.3L1152.0 507.3L1153.0 505.8L1154.4 507.3L1172.0 507.3L1173.3 505.6L1174.6 507.3L1207.0 507.3L1209.0 505.6L1210.5 506.4L1212.4 504.6L1214.4 507.3L1234.0 507.3L1235.4 505.8L1237.0 507.3L1259.5 507.3L1261.6 488.4L1263.3 505.5L1265.0 481.6L1267.0 507.3L1269.0 507.3L1270.2 505.4L1271.6 507.3L1282.0 507.3L1283.5 505.9L1285.0 507.3L1307.5 507.3L1309.8 503.1L1311.8 507.3L1320.2 507.3L1320.6 470.0L1321.7 405.9L1323.0 430.0L1324.5 450.0L1326.0 472.0L1327.3 488.4L1328.4 479.9L1330.6 497.7L1333.0 493.0L1335.5 489.0L1337.8 485.5L1339.5 489.0L1342.0 493.5L1344.2 487.6L1347.6 497.7L1350.0 495.5L1353.0 494.0L1355.5 496.0L1358.0 488.0L1360.3 480.3L1362.3 491.8L1364.8 482.5L1367.4 485.9L1369.9 481.6L1371.6 487.6L1373.6 483.3L1375.3 485.9L1377.2 493.5L1378.4 482.5L1380.9 484.2L1382.6 481.6L1385.2 479.9L1387.2 491.8L1389.9 466.4L1391.6 475.7L1394.5 465.2L1396.2 473.2L1398.4 469.8L1402.1 475.4L1404.6 469.8L1406.0 474.4L1408.0 463.9L1410.5 446.9L1412.0 418.0L1415.1 371.5L1418.1 342.6L1421.3 371.5L1424.5 418.0L1426.2 441.0L1428.3 459.9L1430.0 460.5L1431.9 455.7L1435.7 465.1L1437.5 472.0L1439.5 480.5L1442.0 470.4L1445.1 473.5L1447.9 468.7L1449.8 480.9L1452.5 467.2L1455.0 470.4L1456.7 451.5L1458.4 469.3L1460.9 444.1L1463.0 454.6L1466.1 470.4L1468.2 467.2L1471.4 475.6L1473.9 477.7L1476.0 469.3L1478.1 474.6L1480.8 473.5L1483.6 485.1L1486.1 476.7L1488.2 486.1L1490.7 479.8L1493.4 483.0L1497.0 478.8L1500.8 490.8L1502.9 486.1L1505.0 489.3L1508.1 481.9L1511.3 483.0L1513.4 478.8L1515.1 480.9L1516.5 474.2L1518.6 481.9L1522.8 483.0L1524.9 476.7L1526.6 487.2L1529.7 469.3L1532.3 486.1L1534.4 472.5L1537.5 484.0L1539.6 476.7L1541.1 486.8L1543.8 472.5L1545.9 475.6L1547.0 484.0L1549.5 474.6L1552.2 480.9L1556.4 473.5L1559.6 483.0L1562.7 479.8L1565.9 483.0L1568.0 475.6L1572.2 480.9L1575.3 486.8L1578.0 475.6L1579.5 481.9L1581.0 471.4L1583.7 480.9L1586.4 471.4L1589.0 471.4L1591.0 485.1L1592.7 487.2L1595.3 506.1L1596.0 507.3L1598.0 507.3L1612.0 507.3L1613.2 505.7L1614.5 507.3L1629.0 507.3L1630.2 505.8L1631.5 507.3L1636.5 507.3L1638.3 505.0L1640.0 507.3L1649.0 507.3L1650.2 505.6L1651.5 507.3L1663.0 507.3L1664.3 505.5L1665.6 507.3L1670.0 507.3L1671.0 505.8L1672.0 507.3L1677.0 507.3L1679.0 501.9L1681.0 507.3L1691.0 507.3L1693.0 504.2L1695.0 507.3L1699.0 507.3L1701.0 500.8L1703.0 507.3L1708.0 507.3L1711.0 505.8L1714.0 506.2L1716.5 503.0L1718.5 506.4L1720.5 504.3L1722.5 507.3L1730.0 507.3L1731.5 505.7L1733.0 507.3L1745.5 507.3L1747.8 501.5L1750.0 507.3L1755.0 507.3L1756.2 505.8L1757.5 507.3L1761.0 507.3" class="cv" clip-path="url(#c976_507)"/>
<path d="M976.4 342.3L976.4 507.9" stroke="#6e6e6e" stroke-width="1.3"/>
<path d="M975.8 507.3L1762.2 507.3" stroke="#6e6e6e" stroke-width="1.3"/>
<path d="M971.4 364.6H976.4M971.4 412.1H976.4M971.4 459.7H976.4M973.8 388.3H976.4M973.8 435.9H976.4M973.8 483.5H976.4M988.31 507.3V509.6M1000.62 507.3V509.6M1012.93 507.3V509.6M1025.24 507.3V509.6M1037.55 507.3V512.3M1049.86 507.3V509.6M1062.17 507.3V509.6M1074.48 507.3V509.6M1086.79 507.3V509.6M1099.1 507.3V512.3M1111.41 507.3V509.6M1123.72 507.3V509.6M1136.03 507.3V509.6M1148.34 507.3V509.6M1160.65 507.3V512.3M1172.96 507.3V509.6M1185.27 507.3V509.6M1197.58 507.3V509.6M1209.89 507.3V509.6M1222.2 507.3V512.3M1234.51 507.3V509.6M1246.82 507.3V509.6M1259.13 507.3V509.6M1271.44 507.3V509.6M1283.75 507.3V512.3M1296.06 507.3V509.6M1308.37 507.3V509.6M1320.68 507.3V509.6M1332.99 507.3V509.6M1345.3 507.3V512.3M1357.61 507.3V509.6M1369.92 507.3V509.6M1382.23 507.3V509.6M1394.54 507.3V509.6M1406.85 507.3V512.3M1419.16 507.3V509.6M1431.47 507.3V509.6M1443.78 507.3V509.6M1456.09 507.3V509.6M1468.4 507.3V512.3M1480.71 507.3V509.6M1493.02 507.3V509.6M1505.33 507.3V509.6M1517.64 507.3V509.6M1529.95 507.3V512.3M1542.26 507.3V509.6M1554.57 507.3V509.6M1566.88 507.3V509.6M1579.19 507.3V509.6M1591.5 507.3V512.3M1603.81 507.3V509.6M1616.12 507.3V509.6M1628.43 507.3V509.6M1640.74 507.3V509.6M1653.05 507.3V512.3M1665.36 507.3V509.6M1677.67 507.3V509.6M1689.98 507.3V509.6M1702.29 507.3V509.6M1714.6 507.3V512.3M1726.91 507.3V509.6M1739.22 507.3V509.6M1751.53 507.3V509.6" stroke="#6e6e6e" stroke-width="1.1"/>
<path d="M969.8 501.2L976.4 507.5L969.8 513.8Z" fill="#0000f0"/>
<text transform="translate(968.3,346) scale(1.01,1)" text-anchor="end" font-size="14.67">6970</text>
<text transform="translate(968.3,368.7) scale(1.01,1)" text-anchor="end" font-size="14.67">6000</text>
<text transform="translate(968.3,416.2) scale(1.01,1)" text-anchor="end" font-size="14.67">4000</text>
<text transform="translate(968.3,463.9) scale(1.01,1)" text-anchor="end" font-size="14.67">2000</text>
<text transform="translate(968.3,511.4) scale(1.01,1)" text-anchor="end" font-size="14.67">0</text>
<text transform="translate(1037.55,524.2) scale(0.97,1)" text-anchor="middle" font-size="14.67">0.5</text>
<text transform="translate(1037.55,540.8) scale(0.97,1)" text-anchor="middle" font-size="14.67">43</text>
<text transform="translate(1099.1,524.2) scale(0.97,1)" text-anchor="middle" font-size="14.67">1.0</text>
<text transform="translate(1099.1,540.8) scale(0.97,1)" text-anchor="middle" font-size="14.67">85</text>
<text transform="translate(1160.65,524.2) scale(0.97,1)" text-anchor="middle" font-size="14.67">1.5</text>
<text transform="translate(1160.65,540.8) scale(0.97,1)" text-anchor="middle" font-size="14.67">127</text>
<text transform="translate(1222.2,524.2) scale(0.97,1)" text-anchor="middle" font-size="14.67">2.0</text>
<text transform="translate(1222.2,540.8) scale(0.97,1)" text-anchor="middle" font-size="14.67">170</text>
<text transform="translate(1283.75,524.2) scale(0.97,1)" text-anchor="middle" font-size="14.67">2.5</text>
<text transform="translate(1283.75,540.8) scale(0.97,1)" text-anchor="middle" font-size="14.67">212</text>
<text transform="translate(1345.3,524.2) scale(0.97,1)" text-anchor="middle" font-size="14.67">3.0</text>
<text transform="translate(1345.3,540.8) scale(0.97,1)" text-anchor="middle" font-size="14.67">254</text>
<text transform="translate(1406.85,524.2) scale(0.97,1)" text-anchor="middle" font-size="14.67">3.5</text>
<text transform="translate(1406.85,540.8) scale(0.97,1)" text-anchor="middle" font-size="14.67">297</text>
<text transform="translate(1468.4,524.2) scale(0.97,1)" text-anchor="middle" font-size="14.67">4.0</text>
<text transform="translate(1468.4,540.8) scale(0.97,1)" text-anchor="middle" font-size="14.67">339</text>
<text transform="translate(1529.95,524.2) scale(0.97,1)" text-anchor="middle" font-size="14.67">4.5</text>
<text transform="translate(1529.95,540.8) scale(0.97,1)" text-anchor="middle" font-size="14.67">381</text>
<text transform="translate(1591.5,524.2) scale(0.97,1)" text-anchor="middle" font-size="14.67">5.0</text>
<text transform="translate(1591.5,540.8) scale(0.97,1)" text-anchor="middle" font-size="14.67">424</text>
<text transform="translate(1653.05,524.2) scale(0.97,1)" text-anchor="middle" font-size="14.67">5.5</text>
<text transform="translate(1653.05,540.8) scale(0.97,1)" text-anchor="middle" font-size="14.67">466</text>
<text transform="translate(1714.6,524.2) scale(0.97,1)" text-anchor="middle" font-size="14.67">6.0</text>
<text transform="translate(1714.6,540.8) scale(0.97,1)" text-anchor="middle" font-size="14.67">508</text>
<text transform="translate(1349.65,557.6) scale(1.0,1)" text-anchor="middle" font-size="14.67">Time, min</text>
<text transform="translate(907.9,433) rotate(-90) scale(1.0,1)" text-anchor="middle" font-size="14.67">Intens...</text>
<text x="938.9" y="299.4" font-size="14.67" textLength="605" lengthAdjust="spacingAndGlyphs">TIC of -MRM (8 pairs): Exp 2, from Sample 26 (Ser-Y007) of Data20240903.wiff (Turbo Spray)</text>
<text transform="translate(994.3,476.8) scale(0.97,1)" text-anchor="middle" font-size="14.67">0.15</text>
<text transform="translate(1027,488) scale(0.97,1)" text-anchor="middle" font-size="14.67">0.24</text>
<text transform="translate(1077.2,489.1) scale(0.97,1)" text-anchor="middle" font-size="14.67">0.82</text>
<text transform="translate(1124.8,488.7) scale(0.97,1)" text-anchor="middle" font-size="14.67">1.21</text>
<text transform="translate(1212.5,501.1) scale(0.97,1)" text-anchor="middle" font-size="14.67">1.92</text>
<text transform="translate(1264.6,478.2) scale(0.97,1)" text-anchor="middle" font-size="14.67">2.35</text>
<text transform="translate(1321.4,402.2) scale(0.97,1)" text-anchor="middle" font-size="14.67">2.81</text>
<text transform="translate(1363.8,476) scale(0.97,1)" text-anchor="middle" font-size="14.67">3.33</text>
<text transform="translate(1417.5,338.3) scale(0.97,1)" text-anchor="middle" font-size="14.67">3.59</text>
<text transform="translate(1460.6,439.8) scale(0.97,1)" text-anchor="middle" font-size="14.67">3.94</text>
<text transform="translate(1529.3,465.6) scale(0.97,1)" text-anchor="middle" font-size="14.67">4.50</text>
<text transform="translate(1617.5,501.9) scale(0.97,1)" text-anchor="middle" font-size="14.67">5.38</text>
<text transform="translate(1657.7,498.1) scale(0.97,1)" text-anchor="middle" font-size="14.67">5.71</text>
<text transform="translate(1701,496.6) scale(0.97,1)" text-anchor="middle" font-size="14.67">5.89</text>
<text transform="translate(1747.5,496.6) scale(0.97,1)" text-anchor="middle" font-size="14.67">6.27</text>
<path d="M1006.1 489.1L1012.2 484.6M1378.4 474.4L1385.2 477.9M1632 499.8L1638.9 504M1672.5 495.2L1679.7 499.8" class="ld"/>
<text x="1309.9" y="330.9" class="b" font-size="14.78">Quercetin</text>
<text x="1318.7" y="350.1" class="b" font-size="14.78">Luteolin</text>
<text x="1509.5" y="418.8" class="b" font-size="14.78">Kaempferol</text>
<text x="1515.7" y="439.8" class="b" font-size="14.78">Isorhamnetin</text>
<path d="M1403.6 332L1373.2 326.8M1378.53 324.51L1373.2 326.8M1377.46 330.73L1373.2 326.8" class="ar"/>
<path d="M1404 337.9L1371.9 345.4M1375.92 341.22L1371.9 345.4M1377.36 347.37L1371.9 345.4" class="ar"/>
<path d="M1477.2 429.7L1506 415.8M1502.99 420.76L1506 415.8M1500.25 415.07L1506 415.8" class="ar"/>
<path d="M1477.2 433.8L1512.9 433.8M1508.04 436.96L1512.9 433.8M1508.04 430.64L1512.9 433.8" class="ar"/>
<clipPath id="c106_789"><rect x="106.6" y="613.5" width="789.4" height="174.95"/></clipPath>
<path d="M107.5 789.4L453.3 789.4L453.8 775.0L454.7 760.7L456.0 775.1L456.1 775.5L456.6 778.6L457.1 781.6L457.6 784.1L458.1 786.0L458.6 787.0L459.1 787.4L459.6 787.7L460.1 788.0L460.6 788.3L461.1 788.5L461.6 788.6L462.1 788.7L462.6 788.8L462.8 788.8L463.1 788.8L463.6 788.7L464.1 788.5L464.6 788.3L465.1 788.0L465.6 787.7L466.1 787.3L466.6 787.0L467.1 786.6L467.6 786.3L467.9 786.1L468.1 786.0L468.6 785.7L469.1 785.3L469.6 785.0L470.1 784.6L470.6 784.3L471.1 783.9L471.6 783.5L472.1 783.1L472.6 782.7L473.1 782.3L473.6 781.9L474.1 781.4L474.6 781.0L475.1 780.6L475.6 780.2L476.1 779.8L476.6 779.3L477.1 778.7L477.6 777.9L477.7 777.7L478.1 776.3L478.6 773.3L479.1 769.6L479.6 766.0L480.1 763.3L480.6 761.3L481.1 759.3L481.6 757.8L482.1 756.9L482.3 756.8L482.6 757.1L483.1 758.8L483.6 761.4L484.1 764.4L484.6 767.3L484.8 768.3L485.1 769.8L485.6 772.6L486.1 775.6L486.6 778.4L487.1 780.9L487.6 782.9L487.9 783.6L488.1 784.0L488.6 784.9L489.1 785.7L489.6 786.3L490.1 786.8L490.6 787.0L490.7 787.0L491.1 786.9L491.6 786.5L492.1 785.8L492.4 785.3L492.6 784.4L493.1 778.7L493.6 770.2L494.1 761.6L494.6 751.7L495.1 742.6L495.3 741.0L495.6 739.9L496.1 738.8L496.3 738.7L496.6 738.9L497.1 739.8L497.5 741.0L497.6 741.5L498.1 747.2L498.6 755.8L499.1 763.8L499.2 765.0L499.6 769.5L500.1 775.0L500.6 779.8L501.1 783.2L501.4 784.4L501.6 784.9L502.1 786.0L502.6 787.0L503.1 787.7L503.6 788.2L504.1 788.5L504.3 788.5L504.6 788.5L505.1 788.5L505.6 788.5L506.1 788.5L506.6 788.4L507.1 788.4L507.6 788.4L508.1 788.4L508.6 788.3L509.1 788.3L509.6 788.2L510.1 788.1L510.6 788.1L511.1 788.0L511.6 787.9L512.1 787.8L512.6 787.7L513.1 787.6L513.6 787.5L514.1 787.3L514.6 787.2L515.1 787.1L515.3 787.0L515.6 786.8L516.1 786.2L516.6 785.2L517.1 784.0L517.6 782.5L517.8 781.9L518.1 780.6L518.6 777.5L519.1 773.4L519.6 768.8L520.1 764.2L520.4 761.6L520.6 759.9L521.1 755.1L521.6 750.3L522.1 746.3L522.4 744.6L522.6 743.7L523.1 741.5L523.6 739.7L524.1 738.4L524.6 737.9L525.1 738.3L525.6 739.3L526.1 740.7L526.6 742.3L526.8 743.0L527.1 744.2L527.6 746.8L528.1 749.9L528.6 753.3L529.1 756.6L529.6 759.4L529.7 759.9L530.1 761.8L530.6 764.0L531.1 766.1L531.6 768.2L532.1 770.1L532.6 771.8L533.1 773.4L533.6 775.0L534.1 776.7L534.6 778.2L535.1 779.3L535.6 779.7L536.1 779.3L536.6 778.2L537.1 776.8L537.6 775.4L538.1 774.3L538.6 773.4L539.1 772.6L539.6 771.8L540.1 771.4L540.3 771.4L540.6 771.5L541.1 772.0L541.6 772.8L542.1 773.7L542.4 774.3L542.6 774.7L543.1 776.2L543.6 778.0L544.1 779.6L544.6 780.7L544.9 781.0L545.1 781.0L545.6 781.1L546.1 781.2L546.6 781.2L547.1 780.1L547.6 777.2L548.1 773.4L548.6 769.6L548.8 768.3L549.1 766.3L549.6 762.5L550.1 758.7L550.6 755.7L550.8 754.8L551.1 753.6L551.6 751.8L552.1 750.6L552.5 750.2L552.6 750.2L553.1 751.0L553.6 752.6L554.1 754.5L554.6 756.5L555.1 758.7L555.6 761.3L556.1 764.2L556.6 767.0L557.1 769.6L557.6 771.7L558.1 773.4L558.6 775.0L559.1 776.5L559.6 777.8L560.1 779.1L560.6 780.2L561.0 781.0L561.1 781.2L561.6 782.2L562.1 783.2L562.6 784.2L563.1 785.0L563.6 785.7L564.1 786.0L564.4 786.1L564.6 786.1L565.1 785.9L565.6 785.5L566.1 785.1L566.6 784.7L566.9 784.4L567.1 784.2L567.6 783.6L568.1 782.9L568.6 782.4L569.1 782.2L569.6 782.4L570.1 782.8L570.6 783.5L571.1 784.2L571.6 784.9L572.0 785.3L572.1 785.4L572.6 785.9L573.1 786.4L573.6 786.9L574.1 787.2L574.5 787.3L574.6 787.3L575.1 787.3L575.6 787.3L576.1 787.3L576.6 787.3L577.1 787.3L577.6 787.3L578.1 787.3L578.6 787.3L579.1 787.3L579.6 787.3L580.1 787.3L580.6 787.3L581.1 787.3L581.6 787.3L582.1 787.3L582.6 787.3L583.1 787.3L583.6 787.3L584.1 787.3L584.6 787.3L584.7 787.3L585.1 787.3L585.6 787.3L586.1 787.3L586.6 787.3L587.1 787.3L587.6 787.3L588.1 787.3L588.6 787.3L589.1 787.3L589.6 787.3L590.1 787.2L590.6 787.2L591.1 787.2L591.6 787.2L592.1 787.2L592.6 787.2L593.1 787.1L593.6 787.1L594.1 787.1L594.6 787.1L595.1 787.0L595.6 787.0L596.1 787.0L596.6 786.9L597.1 786.9L597.6 786.8L598.1 786.8L598.6 786.7L599.1 786.7L599.6 786.6L599.9 786.6L600.1 786.5L600.6 785.7L601.1 784.2L601.6 782.2L602.1 780.1L602.5 778.5L602.6 778.1L603.1 775.6L603.6 772.6L604.1 769.7L604.6 767.1L604.7 766.7L605.1 765.0L605.6 762.7L606.1 760.7L606.6 759.4L607.0 759.0L607.1 759.0L607.6 759.7L608.1 761.1L608.6 762.9L609.1 764.7L609.2 765.0L609.6 766.4L610.1 768.5L610.6 770.7L611.1 772.8L611.6 774.6L611.8 775.1L612.1 775.8L612.6 776.9L613.1 777.9L613.6 778.8L614.1 779.6L614.6 780.3L615.1 780.9L615.2 781.0L615.6 781.4L616.1 781.9L616.6 782.4L617.1 782.9L617.6 783.3L618.1 783.7L618.6 784.1L619.1 784.4L619.6 784.6L620.1 784.9L620.2 784.9L620.6 785.1L621.1 785.2L621.6 785.4L622.1 785.6L622.6 785.7L623.1 785.8L623.6 786.0L624.1 786.1L624.6 786.2L625.1 786.3L625.6 786.4L626.1 786.5L626.6 786.5L627.0 786.6L627.1 786.6L627.6 786.7L628.1 786.7L628.6 786.8L629.1 786.9L629.6 786.9L630.1 787.0L630.6 787.1L631.1 787.1L631.6 787.2L632.1 787.2L632.6 787.3L633.1 787.3L633.6 787.4L634.1 787.4L634.6 787.5L635.1 787.5L635.6 787.6L636.1 787.6L636.6 787.7L637.1 787.7L637.6 787.7L638.1 787.8L638.6 787.8L639.1 787.8L639.6 787.9L640.1 787.9L640.6 787.9L641.1 787.9L641.6 787.9L642.1 788.0L642.6 788.0L643.1 788.0L643.6 788.0L643.9 788.0L644.1 788.0L644.6 788.0L645.1 788.0L645.6 788.0L646.1 788.0L646.6 788.0L647.1 788.0L647.6 788.0L648.1 788.0L648.6 788.1L649.1 788.1L649.6 788.1L650.1 788.1L650.6 788.1L651.1 788.1L651.6 788.1L652.1 788.1L652.6 788.1L653.1 788.1L653.6 788.1L654.1 788.1L654.6 788.1L655.1 788.1L655.6 788.1L656.1 788.1L656.6 788.1L657.1 788.1L657.6 788.1L658.1 788.1L658.6 788.1L659.1 788.1L659.6 788.1L660.1 788.1L660.6 788.2L661.1 788.2L661.6 788.2L662.1 788.2L662.6 788.2L663.1 788.2L663.6 788.2L664.1 788.2L664.6 788.2L665.1 788.2L665.6 788.2L666.1 788.2L666.6 788.2L667.1 788.2L667.6 788.2L668.1 788.2L668.6 788.2L669.1 788.2L669.6 788.2L670.1 788.2L670.6 788.2L671.1 788.2L671.6 788.2L672.1 788.2L672.6 788.2L673.1 788.2L673.6 788.2L674.1 788.2L674.6 788.2L675.1 788.2L675.6 788.2L676.1 788.2L676.6 788.2L677.1 788.2L677.6 788.2L677.8 788.2L678.1 788.2L678.6 788.2L679.1 788.2L679.6 788.2L680.1 788.2L680.6 788.1L681.1 788.1L681.6 788.1L682.1 788.1L682.6 788.0L683.1 788.0L683.6 787.9L684.1 787.9L684.6 787.8L685.1 787.8L685.6 787.7L686.1 787.6L686.6 787.5L687.1 787.1L687.6 786.2L688.1 784.9L688.6 783.2L688.7 782.8L689.1 780.4L689.6 775.3L690.1 768.4L690.4 763.7L690.6 759.9L691.1 746.4L691.6 730.5L691.9 721.2L692.1 715.3L692.6 700.3L693.1 685.0L693.3 678.7L693.6 668.3L694.1 649.8L694.6 636.2L695.1 628.0L695.6 623.3L695.7 623.1L696.1 627.7L696.5 636.2L696.6 638.2L697.1 649.8L697.6 662.9L698.1 676.2L698.2 678.7L698.6 689.0L699.1 702.3L699.6 714.7L699.9 721.2L700.1 725.2L700.6 734.8L701.1 743.4L701.6 750.6L701.8 753.1L702.1 756.5L702.6 761.7L703.1 766.3L703.6 770.0L704.0 772.2L704.1 772.7L704.6 774.8L705.1 776.6L705.6 778.2L706.1 779.6L706.6 780.7L707.1 781.6L707.2 781.7L707.6 782.3L708.1 782.9L708.6 783.5L709.1 784.1L709.6 784.6L710.1 785.0L710.6 785.4L711.1 785.7L711.6 785.9L712.0 786.0L712.1 786.0L712.6 786.1L713.1 786.2L713.6 786.3L714.1 786.4L714.6 786.5L715.1 786.5L715.6 786.6L716.1 786.6L716.3 786.6L716.6 786.5L717.1 786.0L717.6 785.3L717.8 784.9L718.1 784.2L718.6 782.1L719.1 779.2L719.5 776.4L719.6 775.5L720.1 768.8L720.5 763.7L720.6 762.8L721.1 758.0L721.6 753.3L722.1 749.1L722.6 745.6L723.1 743.1L723.6 742.0L723.7 742.0L724.1 743.2L724.6 747.3L725.1 753.5L725.6 760.7L725.8 763.7L726.1 770.3L726.6 783.9L726.9 788.1L727.1 788.8L727.5 789.4L727.6 789.4L893.0 789.4" class="cv" clip-path="url(#c106_789)"/>
<path d="M106.6 623.5L106.6 790" stroke="#6e6e6e" stroke-width="1.3"/>
<path d="M106 789.4L894 789.4" stroke="#6e6e6e" stroke-width="1.3"/>
<path d="M101.6 647.7H106.6M101.6 695.1H106.6M101.6 742.2H106.6M104 779.94H106.6M104 770.48H106.6M104 761.02H106.6M104 751.56H106.6M104 732.64H106.6M104 723.18H106.6M104 713.72H106.6M104 704.26H106.6M104 685.34H106.6M104 675.88H106.6M104 666.42H106.6M104 656.96H106.6M104 638.04H106.6M104 628.58H106.6M118.97 789.4V791.7M131.34 789.4V791.7M143.71 789.4V791.7M156.08 789.4V791.7M168.45 789.4V794.4M180.82 789.4V791.7M193.19 789.4V791.7M205.56 789.4V791.7M217.93 789.4V791.7M230.3 789.4V794.4M242.67 789.4V791.7M255.04 789.4V791.7M267.41 789.4V791.7M279.78 789.4V791.7M292.15 789.4V794.4M304.52 789.4V791.7M316.89 789.4V791.7M329.26 789.4V791.7M341.63 789.4V791.7M354 789.4V794.4M366.37 789.4V791.7M378.74 789.4V791.7M391.11 789.4V791.7M403.48 789.4V791.7M415.85 789.4V794.4M428.22 789.4V791.7M440.59 789.4V791.7M452.96 789.4V791.7M465.33 789.4V791.7M477.7 789.4V794.4M490.07 789.4V791.7M502.44 789.4V791.7M514.81 789.4V791.7M527.18 789.4V791.7M539.55 789.4V794.4M551.92 789.4V791.7M564.29 789.4V791.7M576.66 789.4V791.7M589.03 789.4V791.7M601.4 789.4V794.4M613.77 789.4V791.7M626.14 789.4V791.7M638.51 789.4V791.7M650.88 789.4V791.7M663.25 789.4V794.4M675.62 789.4V791.7M687.99 789.4V791.7M700.36 789.4V791.7M712.73 789.4V791.7M725.1 789.4V794.4M737.47 789.4V791.7M749.84 789.4V791.7M762.21 789.4V791.7M774.58 789.4V791.7M786.95 789.4V794.4M799.32 789.4V791.7M811.69 789.4V791.7M824.06 789.4V791.7M836.43 789.4V791.7M848.8 789.4V794.4M861.17 789.4V791.7M873.54 789.4V791.7M885.91 789.4V791.7" stroke="#6e6e6e" stroke-width="1.1"/>
<path d="M100 783.3L106.6 789.6L100 795.9Z" fill="#0000f0"/>
<text transform="translate(98.5,626.3) scale(1.01,1)" text-anchor="end" font-size="14.67">1.8e7</text>
<text transform="translate(98.5,651.8) scale(1.01,1)" text-anchor="end" font-size="14.67">1.5e7</text>
<text transform="translate(98.5,699.2) scale(1.01,1)" text-anchor="end" font-size="14.67">1.0e7</text>
<text transform="translate(98.5,746.3) scale(1.01,1)" text-anchor="end" font-size="14.67">5.0e6</text>
<text transform="translate(98.5,793.5) scale(1.01,1)" text-anchor="end" font-size="14.67">0.0</text>
<text transform="translate(168.45,806.8) scale(0.97,1)" text-anchor="middle" font-size="14.67">0.5</text>
<text transform="translate(168.45,823.5) scale(0.97,1)" text-anchor="middle" font-size="14.67">43</text>
<text transform="translate(230.3,806.8) scale(0.97,1)" text-anchor="middle" font-size="14.67">1.0</text>
<text transform="translate(230.3,823.5) scale(0.97,1)" text-anchor="middle" font-size="14.67">86</text>
<text transform="translate(292.15,806.8) scale(0.97,1)" text-anchor="middle" font-size="14.67">1.5</text>
<text transform="translate(292.15,823.5) scale(0.97,1)" text-anchor="middle" font-size="14.67">128</text>
<text transform="translate(354,806.8) scale(0.97,1)" text-anchor="middle" font-size="14.67">2.0</text>
<text transform="translate(354,823.5) scale(0.97,1)" text-anchor="middle" font-size="14.67">170</text>
<text transform="translate(415.85,806.8) scale(0.97,1)" text-anchor="middle" font-size="14.67">2.5</text>
<text transform="translate(415.85,823.5) scale(0.97,1)" text-anchor="middle" font-size="14.67">213</text>
<text transform="translate(477.7,806.8) scale(0.97,1)" text-anchor="middle" font-size="14.67">3.0</text>
<text transform="translate(477.7,823.5) scale(0.97,1)" text-anchor="middle" font-size="14.67">255</text>
<text transform="translate(539.55,806.8) scale(0.97,1)" text-anchor="middle" font-size="14.67">3.5</text>
<text transform="translate(539.55,823.5) scale(0.97,1)" text-anchor="middle" font-size="14.67">297</text>
<text transform="translate(601.4,806.8) scale(0.97,1)" text-anchor="middle" font-size="14.67">4.0</text>
<text transform="translate(601.4,823.5) scale(0.97,1)" text-anchor="middle" font-size="14.67">339</text>
<text transform="translate(663.25,806.8) scale(0.97,1)" text-anchor="middle" font-size="14.67">4.5</text>
<text transform="translate(663.25,823.5) scale(0.97,1)" text-anchor="middle" font-size="14.67">382</text>
<text transform="translate(725.1,806.8) scale(0.97,1)" text-anchor="middle" font-size="14.67">5.0</text>
<text transform="translate(725.1,823.5) scale(0.97,1)" text-anchor="middle" font-size="14.67">424</text>
<text transform="translate(786.95,806.8) scale(0.97,1)" text-anchor="middle" font-size="14.67">5.5</text>
<text transform="translate(786.95,823.5) scale(0.97,1)" text-anchor="middle" font-size="14.67">466</text>
<text transform="translate(848.8,806.8) scale(0.97,1)" text-anchor="middle" font-size="14.67">6.0</text>
<text transform="translate(848.8,823.5) scale(0.97,1)" text-anchor="middle" font-size="14.67">509</text>
<text transform="translate(482.8,840.7) scale(1.0,1)" text-anchor="middle" font-size="14.67">Time, min</text>
<text transform="translate(38.7,714.5) rotate(-90) scale(1.0,1)" text-anchor="middle" font-size="14.67">Intens...</text>
<text x="68.3" y="579.7" font-size="14.67" textLength="629.8" lengthAdjust="spacingAndGlyphs">TIC of +MRM (9 pairs): Exp 1, from Sample 12 (Y-500ug004) of Data20240903.wiff (Turbo Spray)</text>
<text transform="translate(141.5,785.9) scale(0.97,1)" text-anchor="middle" font-size="14.67">0.28</text>
<text transform="translate(194.1,785.9) scale(0.97,1)" text-anchor="middle" font-size="14.67">0.71</text>
<text transform="translate(231.9,785.9) scale(0.97,1)" text-anchor="middle" font-size="14.67">1.18</text>
<text transform="translate(270.4,785.9) scale(0.97,1)" text-anchor="middle" font-size="14.67">1.33</text>
<text transform="translate(301.7,785.9) scale(0.97,1)" text-anchor="middle" font-size="14.67">1.40</text>
<text transform="translate(357.8,785.9) scale(0.97,1)" text-anchor="middle" font-size="14.67">2.03</text>
<text transform="translate(394.6,785.9) scale(0.97,1)" text-anchor="middle" font-size="14.67">2.51</text>
<text transform="translate(432.6,757.5) scale(0.97,1)" text-anchor="middle" font-size="14.67">2.81</text>
<text transform="translate(475.1,735.2) scale(0.97,1)" text-anchor="middle" font-size="14.67">3.15</text>
<text transform="translate(524.6,734.2) scale(0.97,1)" text-anchor="middle" font-size="14.67">3.38</text>
<text transform="translate(573.7,746.5) scale(0.97,1)" text-anchor="middle" font-size="14.67">3.60</text>
<text transform="translate(606.5,755.5) scale(0.97,1)" text-anchor="middle" font-size="14.67">4.04</text>
<text transform="translate(663.8,785) scale(0.97,1)" text-anchor="middle" font-size="14.67">4.51</text>
<text transform="translate(695.1,619) scale(0.97,1)" text-anchor="middle" font-size="14.67">4.76</text>
<text transform="translate(723.3,737.8) scale(0.97,1)" text-anchor="middle" font-size="14.67">4.99</text>
<text transform="translate(761,786.1) scale(0.97,1)" text-anchor="middle" font-size="14.67">5.29</text>
<text transform="translate(791.1,786.1) scale(0.97,1)" text-anchor="middle" font-size="14.67">5.53</text>
<text transform="translate(835.6,786.1) scale(0.97,1)" text-anchor="middle" font-size="14.67">5.89</text>
<path d="M246.3 783L253.3 787.5M280.1 787.3L286 783.8M409.7 783L417.2 787.5M447.9 754L454.7 758.2M489.9 732.8L496.1 736.5M552.5 748L559 743.8" class="ld"/>
<text x="406.7" y="688.3" class="b" font-size="14.78">Isorhyncophylline</text>
<text x="576.9" y="709.8" class="b" font-size="14.78">Baicalein</text>
<text x="593.6" y="625.4" class="b" font-size="14.78">Acacetin</text>
<text x="746" y="625.8" class="b" font-size="14.78">Neobaicalein</text>
<path d="M475.5 725.2L473.5 693.5M476.96 698.16L473.5 693.5M470.65 698.55L473.5 693.5" class="ar"/>
<path d="M605.5 742.1L606.4 715M609.4 719.97L606.4 715M603.08 719.76L606.4 715" class="ar"/>
<path d="M678.1 615.6L649.5 617.9M654.1 614.36L649.5 617.9M654.6 620.66L649.5 617.9" class="ar"/>
<path d="M713 615.6L740.9 618.8M735.71 621.38L740.9 618.8M736.43 615.11L740.9 618.8" class="ar"/>
<clipPath id="c976_789"><rect x="976.4" y="613.5" width="792.7" height="175.05"/></clipPath>
<path d="M977.3 789.5L1052.5 789.5L1053.8 787.9L1055.0 789.5L1163.0 789.5L1164.0 788.0L1165.2 789.5L1275.5 789.5L1276.8 788.0L1278.0 789.5L1322.3 789.5L1322.7 780.0L1323.7 775.9L1323.8 775.8L1324.3 777.1L1324.8 778.4L1325.3 779.6L1325.8 780.7L1326.3 781.6L1326.6 782.2L1326.8 782.5L1327.3 783.4L1327.8 784.4L1328.3 785.4L1328.8 786.3L1329.3 786.9L1329.8 787.4L1330.3 787.7L1330.8 787.8L1331.0 787.8L1331.3 787.8L1331.8 787.8L1332.3 787.8L1332.8 787.8L1333.3 787.7L1333.8 787.7L1334.3 787.7L1334.8 787.7L1335.3 787.6L1335.8 787.6L1336.3 787.7L1336.8 787.8L1337.3 787.9L1337.8 787.8L1338.3 787.5L1338.8 787.3L1339.3 787.2L1339.8 787.3L1340.3 787.4L1340.8 787.4L1341.3 787.3L1341.8 787.2L1342.3 787.1L1342.4 787.1L1342.8 787.0L1343.3 787.0L1343.8 787.0L1344.3 787.0L1344.8 787.1L1345.3 787.1L1345.8 787.1L1346.3 787.2L1346.8 787.3L1347.3 787.4L1347.8 787.4L1348.3 787.3L1348.8 787.3L1349.3 787.2L1349.8 787.0L1350.3 786.8L1350.8 786.7L1351.3 786.6L1351.8 786.7L1352.3 786.7L1352.8 786.7L1353.3 786.7L1353.8 786.6L1354.3 786.6L1354.8 786.7L1355.3 786.8L1355.8 787.0L1356.3 787.0L1356.8 786.9L1357.3 786.5L1357.8 786.0L1358.3 785.4L1358.8 784.8L1359.3 784.2L1359.8 783.7L1360.3 783.1L1360.8 782.5L1361.3 781.9L1361.8 781.3L1362.3 780.8L1362.8 780.5L1363.0 780.5L1363.3 780.6L1363.8 780.7L1364.3 780.9L1364.8 781.1L1365.3 781.3L1365.8 781.5L1366.3 781.7L1366.8 781.8L1367.3 782.0L1367.8 782.3L1368.3 782.9L1368.8 783.6L1369.3 784.2L1369.8 784.7L1370.3 784.8L1370.8 784.8L1371.3 784.8L1371.8 784.9L1372.3 785.0L1372.8 785.2L1373.3 785.2L1373.8 785.2L1374.3 785.2L1374.8 785.2L1375.3 785.2L1375.8 785.2L1376.3 785.2L1376.8 785.2L1377.3 785.2L1377.8 785.2L1378.3 785.2L1378.5 785.2L1378.8 785.2L1379.3 785.2L1379.8 785.2L1380.3 785.1L1380.8 785.0L1381.3 784.9L1381.8 784.8L1382.3 784.6L1382.8 784.4L1383.3 784.3L1383.8 784.3L1384.3 784.4L1384.8 784.4L1385.3 784.4L1385.8 784.2L1385.9 784.2L1386.3 784.1L1386.8 783.9L1387.3 783.8L1387.8 783.7L1388.3 783.6L1388.8 783.3L1389.3 783.0L1389.8 782.6L1390.3 782.2L1390.8 781.8L1391.3 781.4L1391.8 780.9L1391.9 780.8L1392.3 780.0L1392.8 778.0L1393.3 775.3L1393.8 772.1L1394.3 768.5L1394.8 765.2L1395.1 763.4L1395.3 762.2L1395.8 759.0L1396.3 755.9L1396.8 754.0L1397.0 753.8L1397.3 754.1L1397.8 755.9L1398.3 758.5L1398.8 761.3L1399.3 763.6L1399.8 765.4L1400.3 767.4L1400.8 769.2L1401.3 770.8L1401.8 771.8L1401.9 771.9L1402.3 772.4L1402.8 772.9L1403.3 773.3L1403.8 773.6L1404.3 773.8L1404.8 774.0L1405.0 774.1L1405.3 774.4L1405.8 774.9L1406.3 775.6L1406.8 776.3L1407.3 777.0L1407.8 777.7L1408.3 778.3L1408.8 778.8L1409.3 779.0L1409.7 779.0L1409.8 778.9L1410.3 777.0L1410.8 773.5L1411.0 772.0L1411.3 769.4L1411.8 763.3L1412.3 755.9L1412.5 752.8L1412.8 747.7L1413.3 737.5L1413.8 726.0L1414.0 721.2L1414.3 713.6L1414.8 699.8L1415.3 684.8L1415.5 678.5L1415.8 667.8L1416.3 648.3L1416.7 636.0L1416.8 633.5L1417.3 623.7L1417.4 623.3L1417.8 627.7L1418.2 635.9L1418.3 637.9L1418.8 649.4L1419.3 662.6L1419.8 676.0L1419.9 678.5L1420.3 689.0L1420.8 702.4L1421.3 714.7L1421.6 720.9L1421.8 724.7L1422.3 733.7L1422.8 742.0L1423.3 748.9L1423.7 753.1L1423.8 754.0L1424.3 757.9L1424.8 761.3L1425.3 764.1L1425.8 766.5L1426.3 768.2L1426.8 769.6L1427.3 770.9L1427.8 772.0L1428.3 772.6L1428.4 772.7L1428.8 772.3L1429.3 771.1L1429.8 769.2L1430.3 767.2L1430.8 765.5L1431.3 764.1L1431.6 763.8L1431.8 763.8L1432.3 764.4L1432.8 765.9L1433.3 767.9L1433.8 769.9L1434.3 771.6L1434.4 771.9L1434.8 773.1L1435.3 774.5L1435.8 775.9L1436.3 777.1L1436.8 778.2L1437.3 779.0L1437.8 779.7L1438.0 779.9L1438.3 780.1L1438.8 780.5L1439.3 780.8L1439.8 781.1L1440.3 781.3L1440.8 781.5L1441.3 781.8L1441.8 782.2L1442.3 782.5L1442.8 782.8L1443.3 783.1L1443.8 783.3L1444.3 783.6L1444.8 783.7L1445.3 783.7L1445.4 783.7L1445.8 783.7L1446.3 783.6L1446.8 783.4L1447.3 783.2L1447.8 782.9L1448.3 782.5L1448.8 782.0L1449.3 781.6L1449.8 781.2L1450.3 781.0L1450.8 780.9L1451.3 780.8L1451.8 780.4L1452.3 780.0L1452.8 779.7L1453.3 779.6L1453.8 779.6L1453.9 779.7L1454.3 779.7L1454.8 779.8L1455.3 779.7L1455.8 779.6L1456.3 779.5L1456.8 779.6L1457.0 779.7L1457.3 779.8L1457.8 779.9L1458.3 779.6L1458.8 779.1L1459.3 778.6L1459.8 778.1L1460.3 777.8L1460.8 777.5L1461.3 777.5L1461.8 777.5L1462.3 777.4L1462.8 777.5L1463.3 777.6L1463.8 778.0L1464.3 778.4L1464.5 778.5L1464.8 778.8L1465.3 779.3L1465.8 779.9L1466.3 780.5L1466.8 781.2L1467.3 781.9L1467.8 782.4L1468.3 782.7L1468.8 782.8L1469.3 782.7L1469.8 782.5L1470.3 782.3L1470.8 782.1L1471.3 781.9L1471.8 781.6L1472.3 781.2L1472.8 780.8L1473.3 780.5L1473.8 780.3L1474.3 780.1L1474.5 780.1L1474.8 780.1L1475.3 780.3L1475.8 780.5L1476.3 780.8L1476.8 781.1L1477.3 781.7L1477.8 782.2L1478.3 782.8L1478.8 783.1L1479.3 783.3L1479.4 783.3L1479.8 783.4L1480.3 783.5L1480.8 783.9L1481.3 784.2L1481.8 784.5L1482.3 784.7L1482.8 784.9L1483.3 785.0L1483.8 785.2L1484.3 785.4L1484.6 785.5L1484.8 785.6L1485.3 785.8L1485.8 785.7L1486.3 785.7L1486.8 785.7L1487.3 785.7L1487.8 785.7L1488.3 785.7L1488.8 785.7L1489.3 785.6L1489.8 785.5L1490.3 785.3L1490.8 785.4L1491.3 785.5L1491.8 785.6L1492.3 785.7L1492.8 785.7L1493.3 785.7L1493.8 785.6L1494.3 785.6L1494.8 785.5L1495.3 785.4L1495.8 785.4L1496.3 785.4L1496.8 785.4L1497.3 785.4L1497.8 785.7L1498.3 785.9L1498.8 786.2L1499.0 786.2L1499.3 786.1L1499.8 785.8L1500.3 785.6L1500.8 785.4L1501.3 785.5L1501.8 785.5L1502.3 785.5L1502.8 785.5L1503.3 785.4L1503.8 785.4L1504.3 785.4L1504.8 785.4L1505.3 785.5L1505.8 785.5L1506.3 785.3L1506.8 785.1L1507.3 785.0L1507.8 785.0L1508.3 785.1L1508.8 785.2L1509.3 785.2L1509.8 785.1L1510.3 785.1L1510.8 785.1L1511.3 785.2L1511.8 785.3L1512.3 785.5L1512.8 785.4L1513.3 785.3L1513.8 785.1L1514.3 785.0L1514.8 785.1L1515.3 785.3L1515.8 785.4L1516.3 785.5L1516.8 785.6L1517.3 785.7L1517.8 785.9L1518.3 786.1L1518.8 786.3L1519.3 786.5L1519.8 786.4L1520.3 786.4L1520.8 786.3L1521.3 786.3L1521.8 786.4L1522.3 786.4L1522.8 786.5L1523.3 786.5L1523.8 786.6L1524.3 786.7L1524.8 786.7L1525.3 786.6L1525.6 786.5L1525.8 786.5L1526.3 786.4L1526.8 786.3L1527.3 786.2L1527.8 786.2L1528.3 786.3L1528.8 786.4L1529.3 786.5L1529.8 786.7L1530.3 786.8L1530.8 786.9L1531.3 787.0L1531.8 786.9L1532.3 786.9L1532.8 786.8L1533.3 786.7L1533.8 786.6L1534.3 786.4L1534.8 786.4L1535.3 786.5L1535.8 786.6L1536.3 786.7L1536.8 786.8L1537.3 786.8L1537.8 786.9L1538.3 786.8L1538.8 786.6L1539.3 786.5L1539.8 786.3L1540.3 786.4L1540.8 786.5L1541.3 786.6L1541.8 786.6L1542.3 786.5L1542.8 786.4L1543.3 786.4L1543.8 786.3L1544.3 786.3L1544.8 786.3L1545.3 786.3L1545.8 786.3L1546.3 786.3L1546.8 786.3L1547.3 786.2L1547.8 786.2L1548.3 786.2L1548.8 786.2L1549.3 786.3L1549.8 786.3L1550.3 786.2L1550.8 786.1L1551.3 786.0L1551.8 786.0L1552.3 786.1L1552.8 786.2L1553.3 786.3L1553.8 786.1L1554.3 786.0L1554.8 785.9L1555.3 785.9L1555.8 786.0L1556.3 786.2L1556.8 786.2L1557.3 786.1L1557.8 786.0L1558.3 785.9L1558.8 785.7L1559.3 785.5L1559.8 785.3L1560.3 785.2L1560.8 785.4L1561.3 785.5L1561.8 785.7L1562.3 785.5L1562.8 785.3L1563.3 785.1L1563.8 785.0L1564.3 785.1L1564.8 785.1L1565.3 785.2L1565.7 785.2L1565.8 785.2L1566.3 785.2L1566.8 785.3L1567.3 785.3L1567.8 785.3L1568.3 785.3L1568.8 785.4L1569.3 785.4L1569.8 785.5L1570.3 785.6L1570.8 785.7L1571.3 785.8L1571.8 785.9L1572.3 785.9L1572.8 785.8L1573.0 785.8L1573.3 785.7L1573.8 785.6L1574.3 785.7L1574.8 785.8L1575.3 785.8L1575.8 785.5L1576.3 785.1L1576.8 784.7L1577.3 784.5L1577.8 784.5L1578.3 784.6L1578.8 784.7L1579.3 784.4L1579.7 784.3L1579.8 784.3L1580.3 784.1L1580.8 784.2L1581.3 784.3L1581.8 784.5L1582.3 784.7L1582.8 784.9L1583.3 785.1L1583.8 785.3L1584.3 785.4L1584.8 785.5L1585.3 785.5L1585.8 785.6L1586.0 785.6L1586.3 785.6L1586.8 785.7L1587.3 785.8L1587.8 785.8L1588.3 785.9L1588.8 786.0L1589.3 786.0L1589.8 786.1L1590.3 786.1L1590.8 786.2L1591.3 786.3L1591.8 786.4L1592.3 786.6L1592.8 786.6L1593.3 786.7L1593.8 786.8L1594.3 786.7L1594.8 786.6L1595.3 786.6L1595.8 786.6L1596.3 787.1L1596.8 787.6L1597.3 788.2L1597.8 788.7L1598.3 789.1L1598.6 789.3L1598.8 789.5L1623.5 789.5L1624.9 787.4L1626.3 789.5L1653.5 789.5L1654.7 788.0L1656.0 789.5L1701.0 789.5L1702.5 787.8L1704.0 789.5L1710.3 789.5L1711.7 787.6L1713.0 789.5L1720.0 789.5L1721.3 788.0L1722.6 789.5L1745.0 789.5L1746.4 787.8L1747.8 789.5L1766.0 789.5" class="cv" clip-path="url(#c976_789)"/>
<path d="M976.4 623.5L976.4 790.1" stroke="#6e6e6e" stroke-width="1.3"/>
<path d="M975.8 789.5L1767.1 789.5" stroke="#6e6e6e" stroke-width="1.3"/>
<path d="M971.4 643.8H976.4M971.4 680.3H976.4M971.4 716.7H976.4M971.4 753.1H976.4M973.8 662H976.4M973.8 698.5H976.4M973.8 734.9H976.4M973.8 771.3H976.4M988.09 789.5V791.8M1000.48 789.5V791.8M1012.87 789.5V791.8M1025.26 789.5V791.8M1037.65 789.5V794.5M1050.04 789.5V791.8M1062.43 789.5V791.8M1074.82 789.5V791.8M1087.21 789.5V791.8M1099.6 789.5V794.5M1111.99 789.5V791.8M1124.38 789.5V791.8M1136.77 789.5V791.8M1149.16 789.5V791.8M1161.55 789.5V794.5M1173.94 789.5V791.8M1186.33 789.5V791.8M1198.72 789.5V791.8M1211.11 789.5V791.8M1223.5 789.5V794.5M1235.89 789.5V791.8M1248.28 789.5V791.8M1260.67 789.5V791.8M1273.06 789.5V791.8M1285.45 789.5V794.5M1297.84 789.5V791.8M1310.23 789.5V791.8M1322.62 789.5V791.8M1335.01 789.5V791.8M1347.4 789.5V794.5M1359.79 789.5V791.8M1372.18 789.5V791.8M1384.57 789.5V791.8M1396.96 789.5V791.8M1409.35 789.5V794.5M1421.74 789.5V791.8M1434.13 789.5V791.8M1446.52 789.5V791.8M1458.91 789.5V791.8M1471.3 789.5V794.5M1483.69 789.5V791.8M1496.08 789.5V791.8M1508.47 789.5V791.8M1520.86 789.5V791.8M1533.25 789.5V794.5M1545.64 789.5V791.8M1558.03 789.5V791.8M1570.42 789.5V791.8M1582.81 789.5V791.8M1595.2 789.5V794.5M1607.59 789.5V791.8M1619.98 789.5V791.8M1632.37 789.5V791.8M1644.76 789.5V791.8M1657.15 789.5V794.5M1669.54 789.5V791.8M1681.93 789.5V791.8M1694.32 789.5V791.8M1706.71 789.5V791.8M1719.1 789.5V794.5M1731.49 789.5V791.8M1743.88 789.5V791.8M1756.27 789.5V791.8" stroke="#6e6e6e" stroke-width="1.1"/>
<path d="M969.8 783.4L976.4 789.7L969.8 796Z" fill="#0000f0"/>
<text transform="translate(968.5,627.2) scale(1.01,1)" text-anchor="end" font-size="14.67">9.2e4</text>
<text transform="translate(968.5,648) scale(1.01,1)" text-anchor="end" font-size="14.67">8.0e4</text>
<text transform="translate(968.5,684.5) scale(1.01,1)" text-anchor="end" font-size="14.67">6.0e4</text>
<text transform="translate(968.5,720.9) scale(1.01,1)" text-anchor="end" font-size="14.67">4.0e4</text>
<text transform="translate(968.5,757.3) scale(1.01,1)" text-anchor="end" font-size="14.67">2.0e4</text>
<text transform="translate(968.5,793.5) scale(1.01,1)" text-anchor="end" font-size="14.67">0.0</text>
<text transform="translate(1037.65,806.5) scale(0.97,1)" text-anchor="middle" font-size="14.67">0.5</text>
<text transform="translate(1037.65,823.3) scale(0.97,1)" text-anchor="middle" font-size="14.67">43</text>
<text transform="translate(1099.6,806.5) scale(0.97,1)" text-anchor="middle" font-size="14.67">1.0</text>
<text transform="translate(1099.6,823.3) scale(0.97,1)" text-anchor="middle" font-size="14.67">85</text>
<text transform="translate(1161.55,806.5) scale(0.97,1)" text-anchor="middle" font-size="14.67">1.5</text>
<text transform="translate(1161.55,823.3) scale(0.97,1)" text-anchor="middle" font-size="14.67">127</text>
<text transform="translate(1223.5,806.5) scale(0.97,1)" text-anchor="middle" font-size="14.67">2.0</text>
<text transform="translate(1223.5,823.3) scale(0.97,1)" text-anchor="middle" font-size="14.67">170</text>
<text transform="translate(1285.45,806.5) scale(0.97,1)" text-anchor="middle" font-size="14.67">2.5</text>
<text transform="translate(1285.45,823.3) scale(0.97,1)" text-anchor="middle" font-size="14.67">212</text>
<text transform="translate(1347.4,806.5) scale(0.97,1)" text-anchor="middle" font-size="14.67">3.0</text>
<text transform="translate(1347.4,823.3) scale(0.97,1)" text-anchor="middle" font-size="14.67">254</text>
<text transform="translate(1409.35,806.5) scale(0.97,1)" text-anchor="middle" font-size="14.67">3.5</text>
<text transform="translate(1409.35,823.3) scale(0.97,1)" text-anchor="middle" font-size="14.67">297</text>
<text transform="translate(1471.3,806.5) scale(0.97,1)" text-anchor="middle" font-size="14.67">4.0</text>
<text transform="translate(1471.3,823.3) scale(0.97,1)" text-anchor="middle" font-size="14.67">339</text>
<text transform="translate(1533.25,806.5) scale(0.97,1)" text-anchor="middle" font-size="14.67">4.5</text>
<text transform="translate(1533.25,823.3) scale(0.97,1)" text-anchor="middle" font-size="14.67">381</text>
<text transform="translate(1595.2,806.5) scale(0.97,1)" text-anchor="middle" font-size="14.67">5.0</text>
<text transform="translate(1595.2,823.3) scale(0.97,1)" text-anchor="middle" font-size="14.67">424</text>
<text transform="translate(1657.15,806.5) scale(0.97,1)" text-anchor="middle" font-size="14.67">5.5</text>
<text transform="translate(1657.15,823.3) scale(0.97,1)" text-anchor="middle" font-size="14.67">466</text>
<text transform="translate(1719.1,806.5) scale(0.97,1)" text-anchor="middle" font-size="14.67">6.0</text>
<text transform="translate(1719.1,823.3) scale(0.97,1)" text-anchor="middle" font-size="14.67">508</text>
<text transform="translate(1352.05,840) scale(1.0,1)" text-anchor="middle" font-size="14.67">Time, min</text>
<text transform="translate(907.8,714.5) rotate(-90) scale(1.0,1)" text-anchor="middle" font-size="14.67">Intens...</text>
<text x="938.4" y="579.9" font-size="14.67" textLength="627" lengthAdjust="spacingAndGlyphs">TIC of -MRM (8 pairs): Exp 2, from Sample 12 (Y-500ug004) of Data20240903.wiff (Turbo Spray)</text>
<text transform="translate(996.7,785.6) scale(0.97,1)" text-anchor="middle" font-size="14.67">0.17</text>
<text transform="translate(1054.5,784.4) scale(0.97,1)" text-anchor="middle" font-size="14.67">0.63</text>
<text transform="translate(1108.1,785.6) scale(0.97,1)" text-anchor="middle" font-size="14.67">1.07</text>
<text transform="translate(1164,784.9) scale(0.97,1)" text-anchor="middle" font-size="14.67">1.52</text>
<text transform="translate(1237.6,785.6) scale(0.97,1)" text-anchor="middle" font-size="14.67">2.29</text>
<text transform="translate(1276,784.9) scale(0.97,1)" text-anchor="middle" font-size="14.67">2.43</text>
<text transform="translate(1323.7,771.7) scale(0.97,1)" text-anchor="middle" font-size="14.67">2.81</text>
<text transform="translate(1362.4,776.9) scale(0.97,1)" text-anchor="middle" font-size="14.67">3.12</text>
<text transform="translate(1397.2,749.5) scale(0.97,1)" text-anchor="middle" font-size="14.67">3.40</text>
<text transform="translate(1417.8,619.3) scale(0.97,1)" text-anchor="middle" font-size="14.67">3.57</text>
<text transform="translate(1452.6,759.4) scale(0.97,1)" text-anchor="middle" font-size="14.67">3.68</text>
<text transform="translate(1480.9,772.5) scale(0.97,1)" text-anchor="middle" font-size="14.67">3.91</text>
<text transform="translate(1530.1,781.5) scale(0.97,1)" text-anchor="middle" font-size="14.67">4.31</text>
<text transform="translate(1579.9,780.4) scale(0.97,1)" text-anchor="middle" font-size="14.67">4.88</text>
<text transform="translate(1624.8,784.8) scale(0.97,1)" text-anchor="middle" font-size="14.67">5.24</text>
<text transform="translate(1654.5,784.8) scale(0.97,1)" text-anchor="middle" font-size="14.67">5.48</text>
<text transform="translate(1711.9,784.8) scale(0.97,1)" text-anchor="middle" font-size="14.67">5.94</text>
<text transform="translate(1746.9,784.8) scale(0.97,1)" text-anchor="middle" font-size="14.67">6.22</text>
<path d="M1252.5 783L1259.4 787.3M1432.2 760.7L1438 756.7M1460.7 774.7L1466.8 770.7M1510.8 782.4L1516 779.1" class="ld"/>
<text x="1317.8" y="628.8" class="b" font-size="14.78">Luteolin</text>
<text x="1464.4" y="630.3" class="b" font-size="14.78">Quercetin</text>
<text x="1457.3" y="730.1" class="b" font-size="14.78">Kaempferol</text>
<text x="1523.5" y="749.8" class="b" font-size="14.78">Isorhamnetin</text>
<path d="M1403.8 615.9L1371.7 623M1375.77 618.87L1371.7 623M1377.13 625.03L1371.7 623" class="ar"/>
<path d="M1432.5 616.5L1463.8 622.6M1458.42 624.77L1463.8 622.6M1459.63 618.57L1463.8 622.6" class="ar"/>
<path d="M1481.6 759L1494.2 735.4M1494.7 741.18L1494.2 735.4M1489.12 738.2L1494.2 735.4" class="ar"/>
<path d="M1497.3 762L1519.5 745.7M1517.45 751.13L1519.5 745.7M1513.71 746.03L1519.5 745.7" class="ar"/>
</svg>
</body></html>
